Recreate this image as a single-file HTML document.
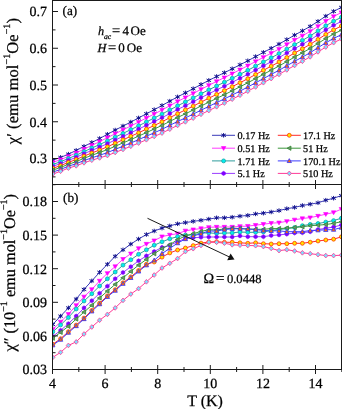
<!DOCTYPE html>
<html><head><meta charset="utf-8"><style>
html,body{margin:0;padding:0;background:#fff;}
body{width:342px;height:409px;overflow:hidden;}
svg{display:block;will-change:transform;}
text{stroke:#000;stroke-width:0.25px;text-rendering:geometricPrecision;}
</style></head><body>
<svg width="342" height="409" viewBox="0 0 342 409">
<defs>
<clipPath id="ct"><rect x="52.5" y="0.5" width="289.0" height="184.0"/></clipPath>
<clipPath id="cb"><rect x="52.5" y="184.5" width="289.0" height="185.0"/></clipPath>
</defs>
<rect width="342" height="409" fill="#fff"/>
<g clip-path="url(#ct)">
<polyline points="52.8,160.2 60.6,157.4 68.4,154.2 76.2,150.4 84.0,146.4 91.8,142.5 99.6,138.5 107.4,134.3 115.2,130.1 123.0,126.0 130.8,122.1 138.6,117.9 146.4,113.8 154.2,109.7 162.0,105.5 169.8,101.1 177.6,96.9 185.4,92.8 193.2,88.7 201.0,84.5 208.8,80.4 216.6,76.5 224.4,72.7 232.2,68.8 240.0,64.8 247.8,60.8 255.6,56.6 263.4,52.4 271.2,48.3 279.0,44.1 286.8,39.6 294.6,35.1 302.4,30.8 310.2,26.4 318.0,21.4 325.8,16.1 333.6,11.4 341.4,7.4" fill="none" stroke="#3a3ab8" stroke-width="1"/>
<polyline points="52.8,162.4 60.6,159.6 68.4,156.4 76.2,152.9 84.0,149.1 91.8,145.4 99.6,141.6 107.4,137.7 115.2,133.7 123.0,129.8 130.8,126.0 138.6,122.0 146.4,118.0 154.2,114.0 162.0,110.0 169.8,105.7 177.6,101.5 185.4,97.5 193.2,93.5 201.0,89.3 208.8,85.3 216.6,81.4 224.4,77.6 232.2,73.7 240.0,69.7 247.8,65.7 255.6,61.5 263.4,57.3 271.2,53.2 279.0,49.0 286.8,44.5 294.6,40.0 302.4,35.8 310.2,31.3 318.0,26.3 325.8,21.2 333.6,16.5 341.4,12.5" fill="none" stroke="#ff3cff" stroke-width="1"/>
<polyline points="52.8,164.5 60.6,161.7 68.4,158.5 76.2,155.2 84.0,151.6 91.8,148.0 99.6,144.6 107.4,140.9 115.2,137.1 123.0,133.4 130.8,129.6 138.6,125.8 146.4,121.9 154.2,118.0 162.0,114.1 169.8,109.9 177.6,105.8 185.4,101.9 193.2,97.9 201.0,93.8 208.8,89.8 216.6,86.0 224.4,82.2 232.2,78.3 240.0,74.3 247.8,70.3 255.6,66.1 263.4,61.9 271.2,57.8 279.0,53.6 286.8,49.1 294.6,44.6 302.4,40.4 310.2,35.9 318.0,30.9 325.8,25.8 333.6,21.2 341.4,17.3" fill="none" stroke="#2f9c9c" stroke-width="1"/>
<polyline points="52.8,166.3 60.6,163.6 68.4,160.4 76.2,157.3 84.0,153.7 91.8,150.4 99.6,147.1 107.4,143.7 115.2,140.0 123.0,136.4 130.8,132.8 138.6,129.1 146.4,125.3 154.2,121.6 162.0,117.7 169.8,113.6 177.6,109.5 185.4,105.7 193.2,101.8 201.0,97.7 208.8,93.8 216.6,89.9 224.4,86.2 232.2,82.3 240.0,78.3 247.8,74.3 255.6,70.1 263.4,65.8 271.2,61.8 279.0,57.6 286.8,53.0 294.6,48.6 302.4,44.4 310.2,39.9 318.0,34.9 325.8,29.9 333.6,25.3 341.4,21.4" fill="none" stroke="#9a3cff" stroke-width="1"/>
<polyline points="52.8,168.3 60.6,165.6 68.4,162.4 76.2,159.5 84.0,156.1 91.8,153.0 99.6,150.0 107.4,146.8 115.2,143.3 123.0,139.8 130.8,136.3 138.6,132.8 146.4,129.1 154.2,125.5 162.0,121.8 169.8,117.7 177.6,113.7 185.4,109.9 193.2,106.1 201.0,102.1 208.8,98.2 216.6,94.4 224.4,90.6 232.2,86.7 240.0,82.7 247.8,78.7 255.6,74.5 263.4,70.3 271.2,66.2 279.0,62.0 286.8,57.5 294.6,53.0 302.4,48.8 310.2,44.3 318.0,39.4 325.8,34.4 333.6,29.9 341.4,26.0" fill="none" stroke="#ff2a2a" stroke-width="1"/>
<polyline points="52.8,170.2 60.6,167.4 68.4,164.3 76.2,161.6 84.0,158.3 91.8,155.3 99.6,152.5 107.4,149.6 115.2,146.3 123.0,142.9 130.8,139.6 138.6,136.1 146.4,132.6 154.2,129.0 162.0,125.4 169.8,121.4 177.6,117.5 185.4,113.8 193.2,110.0 201.0,106.0 208.8,102.2 216.6,98.4 224.4,94.7 232.2,90.8 240.0,86.8 247.8,82.8 255.6,78.6 263.4,74.3 271.2,70.2 279.0,66.0 286.8,61.5 294.6,57.1 302.4,52.8 310.2,48.4 318.0,43.4 325.8,38.5 333.6,34.0 341.4,30.2" fill="none" stroke="#3c963c" stroke-width="1"/>
<polyline points="52.8,172.1 60.6,169.4 68.4,166.2 76.2,163.7 84.0,160.6 91.8,157.8 99.6,155.3 107.4,152.6 115.2,149.4 123.0,146.2 130.8,143.0 138.6,139.6 146.4,136.2 154.2,132.8 162.0,129.3 169.8,125.3 177.6,121.5 185.4,117.9 193.2,114.1 201.0,110.2 208.8,106.4 216.6,102.6 224.4,98.9 232.2,95.0 240.0,91.1 247.8,87.0 255.6,82.8 263.4,78.6 271.2,74.4 279.0,70.3 286.8,65.8 294.6,61.3 302.4,57.1 310.2,52.7 318.0,47.7 325.8,42.8 333.6,38.4 341.4,34.7" fill="none" stroke="#3c3cff" stroke-width="1"/>
<polyline points="52.8,174.0 60.6,171.3 68.4,168.1 76.2,165.8 84.0,162.8 91.8,160.2 99.6,157.9 107.4,155.5 115.2,152.5 123.0,149.4 130.8,146.3 138.6,143.1 146.4,139.8 154.2,136.5 162.0,133.1 169.8,129.2 177.6,125.4 185.4,121.8 193.2,118.1 201.0,114.3 208.8,110.6 216.6,106.8 224.4,103.1 232.2,99.2 240.0,95.3 247.8,91.2 255.6,87.0 263.4,82.7 271.2,78.6 279.0,74.4 286.8,69.9 294.6,65.5 302.4,61.3 310.2,56.8 318.0,51.9 325.8,47.1 333.6,42.7 341.4,39.0" fill="none" stroke="#ff3a96" stroke-width="1"/>
<path d="M50.54,158.85L55.05,161.55M50.54,161.55L55.05,158.85M52.80,157.94L52.80,162.45" stroke="#10108c" stroke-width="1.0" fill="none"/>
<path d="M58.34,156.05L62.85,158.75M58.34,158.75L62.85,156.05M60.60,155.14L60.60,159.65" stroke="#10108c" stroke-width="1.0" fill="none"/>
<path d="M66.14,152.80L70.65,155.50M66.14,155.50L70.65,152.80M68.40,151.90L68.40,156.41" stroke="#10108c" stroke-width="1.0" fill="none"/>
<path d="M73.94,149.07L78.45,151.78M73.94,151.78L78.45,149.07M76.20,148.17L76.20,152.68" stroke="#10108c" stroke-width="1.0" fill="none"/>
<path d="M81.75,145.08L86.25,147.78M81.75,147.78L86.25,145.08M84.00,144.18L84.00,148.69" stroke="#10108c" stroke-width="1.0" fill="none"/>
<path d="M89.55,141.14L94.05,143.84M89.55,143.84L94.05,141.14M91.80,140.24L91.80,144.75" stroke="#10108c" stroke-width="1.0" fill="none"/>
<path d="M97.34,137.14L101.85,139.85M97.34,139.85L101.85,137.14M99.60,136.24L99.60,140.75" stroke="#10108c" stroke-width="1.0" fill="none"/>
<path d="M105.15,132.91L109.66,135.61M105.15,135.61L109.66,132.91M107.40,132.00L107.40,136.51" stroke="#10108c" stroke-width="1.0" fill="none"/>
<path d="M112.94,128.71L117.45,131.41M112.94,131.41L117.45,128.71M115.20,127.81L115.20,132.32" stroke="#10108c" stroke-width="1.0" fill="none"/>
<path d="M120.75,124.68L125.25,127.38M120.75,127.38L125.25,124.68M123.00,123.78L123.00,128.29" stroke="#10108c" stroke-width="1.0" fill="none"/>
<path d="M128.55,120.71L133.06,123.41M128.55,123.41L133.06,120.71M130.80,119.80L130.80,124.31" stroke="#10108c" stroke-width="1.0" fill="none"/>
<path d="M136.34,116.60L140.85,119.30M136.34,119.30L140.85,116.60M138.60,115.69L138.60,120.20" stroke="#10108c" stroke-width="1.0" fill="none"/>
<path d="M144.14,112.40L148.65,115.11M144.14,115.11L148.65,112.40M146.40,111.50L146.40,116.01" stroke="#10108c" stroke-width="1.0" fill="none"/>
<path d="M151.94,108.30L156.45,111.01M151.94,111.01L156.45,108.30M154.20,107.40L154.20,111.91" stroke="#10108c" stroke-width="1.0" fill="none"/>
<path d="M159.75,104.13L164.25,106.83M159.75,106.83L164.25,104.13M162.00,103.23L162.00,107.74" stroke="#10108c" stroke-width="1.0" fill="none"/>
<path d="M167.55,99.76L172.06,102.47M167.55,102.47L172.06,99.76M169.80,98.86L169.80,103.37" stroke="#10108c" stroke-width="1.0" fill="none"/>
<path d="M175.34,95.52L179.85,98.22M175.34,98.22L179.85,95.52M177.60,94.61L177.60,99.12" stroke="#10108c" stroke-width="1.0" fill="none"/>
<path d="M183.14,91.47L187.65,94.18M183.14,94.18L187.65,91.47M185.40,90.57L185.40,95.08" stroke="#10108c" stroke-width="1.0" fill="none"/>
<path d="M190.94,87.34L195.45,90.05M190.94,90.05L195.45,87.34M193.20,86.44L193.20,90.95" stroke="#10108c" stroke-width="1.0" fill="none"/>
<path d="M198.75,83.11L203.25,85.82M198.75,85.82L203.25,83.11M201.00,82.21L201.00,86.72" stroke="#10108c" stroke-width="1.0" fill="none"/>
<path d="M206.55,79.02L211.06,81.73M206.55,81.73L211.06,79.02M208.80,78.12L208.80,82.63" stroke="#10108c" stroke-width="1.0" fill="none"/>
<path d="M214.34,75.15L218.85,77.85M214.34,77.85L218.85,75.15M216.60,74.24L216.60,78.75" stroke="#10108c" stroke-width="1.0" fill="none"/>
<path d="M222.14,71.36L226.65,74.06M222.14,74.06L226.65,71.36M224.40,70.46L224.40,74.97" stroke="#10108c" stroke-width="1.0" fill="none"/>
<path d="M229.94,67.40L234.45,70.11M229.94,70.11L234.45,67.40M232.20,66.50L232.20,71.01" stroke="#10108c" stroke-width="1.0" fill="none"/>
<path d="M237.75,63.40L242.25,66.11M237.75,66.11L242.25,63.40M240.00,62.50L240.00,67.01" stroke="#10108c" stroke-width="1.0" fill="none"/>
<path d="M245.55,59.41L250.06,62.12M245.55,62.12L250.06,59.41M247.80,58.51L247.80,63.02" stroke="#10108c" stroke-width="1.0" fill="none"/>
<path d="M253.34,55.23L257.85,57.93M253.34,57.93L257.85,55.23M255.60,54.33L255.60,58.84" stroke="#10108c" stroke-width="1.0" fill="none"/>
<path d="M261.14,51.01L265.65,53.72M261.14,53.72L265.65,51.01M263.40,50.11L263.40,54.62" stroke="#10108c" stroke-width="1.0" fill="none"/>
<path d="M268.94,46.94L273.45,49.65M268.94,49.65L273.45,46.94M271.20,46.04L271.20,50.55" stroke="#10108c" stroke-width="1.0" fill="none"/>
<path d="M276.75,42.75L281.25,45.45M276.75,45.45L281.25,42.75M279.00,41.85L279.00,46.36" stroke="#10108c" stroke-width="1.0" fill="none"/>
<path d="M284.55,38.21L289.06,40.92M284.55,40.92L289.06,38.21M286.80,37.31L286.80,41.82" stroke="#10108c" stroke-width="1.0" fill="none"/>
<path d="M292.34,33.73L296.85,36.43M292.34,36.43L296.85,33.73M294.60,32.83L294.60,37.34" stroke="#10108c" stroke-width="1.0" fill="none"/>
<path d="M300.14,29.49L304.65,32.20M300.14,32.20L304.65,29.49M302.40,28.59L302.40,33.10" stroke="#10108c" stroke-width="1.0" fill="none"/>
<path d="M307.94,25.01L312.45,27.72M307.94,27.72L312.45,25.01M310.20,24.11L310.20,28.62" stroke="#10108c" stroke-width="1.0" fill="none"/>
<path d="M315.75,20.02L320.25,22.72M315.75,22.72L320.25,20.02M318.00,19.11L318.00,23.62" stroke="#10108c" stroke-width="1.0" fill="none"/>
<path d="M323.55,14.79L328.06,17.50M323.55,17.50L328.06,14.79M325.80,13.89L325.80,18.40" stroke="#10108c" stroke-width="1.0" fill="none"/>
<path d="M331.35,10.03L335.86,12.74M331.35,12.74L335.86,10.03M333.60,9.13L333.60,13.64" stroke="#10108c" stroke-width="1.0" fill="none"/>
<path d="M339.14,6.05L343.65,8.75M339.14,8.75L343.65,6.05M341.40,5.15L341.40,9.66" stroke="#10108c" stroke-width="1.0" fill="none"/>
<polygon points="50.54,160.80 55.05,160.80 52.80,164.69" fill="#ff00ff" stroke="#ff00ff" stroke-width="0.6"/>
<polygon points="58.34,158.00 62.85,158.00 60.60,161.90" fill="#ff00ff" stroke="#ff00ff" stroke-width="0.6"/>
<polygon points="66.14,154.77 70.65,154.77 68.40,158.67" fill="#ff00ff" stroke="#ff00ff" stroke-width="0.6"/>
<polygon points="73.94,151.28 78.45,151.28 76.20,155.18" fill="#ff00ff" stroke="#ff00ff" stroke-width="0.6"/>
<polygon points="81.75,147.45 86.25,147.45 84.00,151.34" fill="#ff00ff" stroke="#ff00ff" stroke-width="0.6"/>
<polygon points="89.55,143.72 94.05,143.72 91.80,147.62" fill="#ff00ff" stroke="#ff00ff" stroke-width="0.6"/>
<polygon points="97.34,140.00 101.85,140.00 99.60,143.89" fill="#ff00ff" stroke="#ff00ff" stroke-width="0.6"/>
<polygon points="105.15,136.06 109.66,136.06 107.40,139.96" fill="#ff00ff" stroke="#ff00ff" stroke-width="0.6"/>
<polygon points="112.94,132.05 117.45,132.05 115.20,135.95" fill="#ff00ff" stroke="#ff00ff" stroke-width="0.6"/>
<polygon points="120.75,128.18 125.25,128.18 123.00,132.08" fill="#ff00ff" stroke="#ff00ff" stroke-width="0.6"/>
<polygon points="128.55,124.34 133.06,124.34 130.80,128.24" fill="#ff00ff" stroke="#ff00ff" stroke-width="0.6"/>
<polygon points="136.34,120.38 140.85,120.38 138.60,124.27" fill="#ff00ff" stroke="#ff00ff" stroke-width="0.6"/>
<polygon points="144.14,116.33 148.65,116.33 146.40,120.22" fill="#ff00ff" stroke="#ff00ff" stroke-width="0.6"/>
<polygon points="151.94,112.36 156.45,112.36 154.20,116.25" fill="#ff00ff" stroke="#ff00ff" stroke-width="0.6"/>
<polygon points="159.75,108.31 164.25,108.31 162.00,112.21" fill="#ff00ff" stroke="#ff00ff" stroke-width="0.6"/>
<polygon points="167.55,104.03 172.06,104.03 169.80,107.92" fill="#ff00ff" stroke="#ff00ff" stroke-width="0.6"/>
<polygon points="175.34,99.85 179.85,99.85 177.60,103.75" fill="#ff00ff" stroke="#ff00ff" stroke-width="0.6"/>
<polygon points="183.14,95.89 187.65,95.89 185.40,99.78" fill="#ff00ff" stroke="#ff00ff" stroke-width="0.6"/>
<polygon points="190.94,91.82 195.45,91.82 193.20,95.72" fill="#ff00ff" stroke="#ff00ff" stroke-width="0.6"/>
<polygon points="198.75,87.66 203.25,87.66 201.00,91.55" fill="#ff00ff" stroke="#ff00ff" stroke-width="0.6"/>
<polygon points="206.55,83.63 211.06,83.63 208.80,87.52" fill="#ff00ff" stroke="#ff00ff" stroke-width="0.6"/>
<polygon points="214.34,79.76 218.85,79.76 216.60,83.66" fill="#ff00ff" stroke="#ff00ff" stroke-width="0.6"/>
<polygon points="222.14,75.99 226.65,75.99 224.40,79.88" fill="#ff00ff" stroke="#ff00ff" stroke-width="0.6"/>
<polygon points="229.94,72.04 234.45,72.04 232.20,75.94" fill="#ff00ff" stroke="#ff00ff" stroke-width="0.6"/>
<polygon points="237.75,68.06 242.25,68.06 240.00,71.95" fill="#ff00ff" stroke="#ff00ff" stroke-width="0.6"/>
<polygon points="245.55,64.06 250.06,64.06 247.80,67.95" fill="#ff00ff" stroke="#ff00ff" stroke-width="0.6"/>
<polygon points="253.34,59.87 257.85,59.87 255.60,63.76" fill="#ff00ff" stroke="#ff00ff" stroke-width="0.6"/>
<polygon points="261.14,55.64 265.65,55.64 263.40,59.54" fill="#ff00ff" stroke="#ff00ff" stroke-width="0.6"/>
<polygon points="268.94,51.57 273.45,51.57 271.20,55.46" fill="#ff00ff" stroke="#ff00ff" stroke-width="0.6"/>
<polygon points="276.75,47.38 281.25,47.38 279.00,51.27" fill="#ff00ff" stroke="#ff00ff" stroke-width="0.6"/>
<polygon points="284.55,42.84 289.06,42.84 286.80,46.74" fill="#ff00ff" stroke="#ff00ff" stroke-width="0.6"/>
<polygon points="292.34,38.37 296.85,38.37 294.60,42.26" fill="#ff00ff" stroke="#ff00ff" stroke-width="0.6"/>
<polygon points="300.14,34.13 304.65,34.13 302.40,38.03" fill="#ff00ff" stroke="#ff00ff" stroke-width="0.6"/>
<polygon points="307.94,29.66 312.45,29.66 310.20,33.56" fill="#ff00ff" stroke="#ff00ff" stroke-width="0.6"/>
<polygon points="315.75,24.67 320.25,24.67 318.00,28.56" fill="#ff00ff" stroke="#ff00ff" stroke-width="0.6"/>
<polygon points="323.55,19.51 328.06,19.51 325.80,23.41" fill="#ff00ff" stroke="#ff00ff" stroke-width="0.6"/>
<polygon points="331.35,14.82 335.86,14.82 333.60,18.71" fill="#ff00ff" stroke="#ff00ff" stroke-width="0.6"/>
<polygon points="339.14,10.88 343.65,10.88 341.40,14.77" fill="#ff00ff" stroke="#ff00ff" stroke-width="0.6"/>
<circle cx="52.8" cy="164.5" r="1.95" fill="#00f0f0" stroke="#1aa6a6" stroke-width="0.8"/>
<circle cx="60.6" cy="161.7" r="1.95" fill="#00f0f0" stroke="#1aa6a6" stroke-width="0.8"/>
<circle cx="68.4" cy="158.5" r="1.95" fill="#00f0f0" stroke="#1aa6a6" stroke-width="0.8"/>
<circle cx="76.2" cy="155.2" r="1.95" fill="#00f0f0" stroke="#1aa6a6" stroke-width="0.8"/>
<circle cx="84.0" cy="151.6" r="1.95" fill="#00f0f0" stroke="#1aa6a6" stroke-width="0.8"/>
<circle cx="91.8" cy="148.0" r="1.95" fill="#00f0f0" stroke="#1aa6a6" stroke-width="0.8"/>
<circle cx="99.6" cy="144.6" r="1.95" fill="#00f0f0" stroke="#1aa6a6" stroke-width="0.8"/>
<circle cx="107.4" cy="140.9" r="1.95" fill="#00f0f0" stroke="#1aa6a6" stroke-width="0.8"/>
<circle cx="115.2" cy="137.1" r="1.95" fill="#00f0f0" stroke="#1aa6a6" stroke-width="0.8"/>
<circle cx="123.0" cy="133.4" r="1.95" fill="#00f0f0" stroke="#1aa6a6" stroke-width="0.8"/>
<circle cx="130.8" cy="129.6" r="1.95" fill="#00f0f0" stroke="#1aa6a6" stroke-width="0.8"/>
<circle cx="138.6" cy="125.8" r="1.95" fill="#00f0f0" stroke="#1aa6a6" stroke-width="0.8"/>
<circle cx="146.4" cy="121.9" r="1.95" fill="#00f0f0" stroke="#1aa6a6" stroke-width="0.8"/>
<circle cx="154.2" cy="118.0" r="1.95" fill="#00f0f0" stroke="#1aa6a6" stroke-width="0.8"/>
<circle cx="162.0" cy="114.1" r="1.95" fill="#00f0f0" stroke="#1aa6a6" stroke-width="0.8"/>
<circle cx="169.8" cy="109.9" r="1.95" fill="#00f0f0" stroke="#1aa6a6" stroke-width="0.8"/>
<circle cx="177.6" cy="105.8" r="1.95" fill="#00f0f0" stroke="#1aa6a6" stroke-width="0.8"/>
<circle cx="185.4" cy="101.9" r="1.95" fill="#00f0f0" stroke="#1aa6a6" stroke-width="0.8"/>
<circle cx="193.2" cy="97.9" r="1.95" fill="#00f0f0" stroke="#1aa6a6" stroke-width="0.8"/>
<circle cx="201.0" cy="93.8" r="1.95" fill="#00f0f0" stroke="#1aa6a6" stroke-width="0.8"/>
<circle cx="208.8" cy="89.8" r="1.95" fill="#00f0f0" stroke="#1aa6a6" stroke-width="0.8"/>
<circle cx="216.6" cy="86.0" r="1.95" fill="#00f0f0" stroke="#1aa6a6" stroke-width="0.8"/>
<circle cx="224.4" cy="82.2" r="1.95" fill="#00f0f0" stroke="#1aa6a6" stroke-width="0.8"/>
<circle cx="232.2" cy="78.3" r="1.95" fill="#00f0f0" stroke="#1aa6a6" stroke-width="0.8"/>
<circle cx="240.0" cy="74.3" r="1.95" fill="#00f0f0" stroke="#1aa6a6" stroke-width="0.8"/>
<circle cx="247.8" cy="70.3" r="1.95" fill="#00f0f0" stroke="#1aa6a6" stroke-width="0.8"/>
<circle cx="255.6" cy="66.1" r="1.95" fill="#00f0f0" stroke="#1aa6a6" stroke-width="0.8"/>
<circle cx="263.4" cy="61.9" r="1.95" fill="#00f0f0" stroke="#1aa6a6" stroke-width="0.8"/>
<circle cx="271.2" cy="57.8" r="1.95" fill="#00f0f0" stroke="#1aa6a6" stroke-width="0.8"/>
<circle cx="279.0" cy="53.6" r="1.95" fill="#00f0f0" stroke="#1aa6a6" stroke-width="0.8"/>
<circle cx="286.8" cy="49.1" r="1.95" fill="#00f0f0" stroke="#1aa6a6" stroke-width="0.8"/>
<circle cx="294.6" cy="44.6" r="1.95" fill="#00f0f0" stroke="#1aa6a6" stroke-width="0.8"/>
<circle cx="302.4" cy="40.4" r="1.95" fill="#00f0f0" stroke="#1aa6a6" stroke-width="0.8"/>
<circle cx="310.2" cy="35.9" r="1.95" fill="#00f0f0" stroke="#1aa6a6" stroke-width="0.8"/>
<circle cx="318.0" cy="30.9" r="1.95" fill="#00f0f0" stroke="#1aa6a6" stroke-width="0.8"/>
<circle cx="325.8" cy="25.8" r="1.95" fill="#00f0f0" stroke="#1aa6a6" stroke-width="0.8"/>
<circle cx="333.6" cy="21.2" r="1.95" fill="#00f0f0" stroke="#1aa6a6" stroke-width="0.8"/>
<circle cx="341.4" cy="17.3" r="1.95" fill="#00f0f0" stroke="#1aa6a6" stroke-width="0.8"/>
<polygon points="54.58,167.35 52.80,168.38 51.02,167.35 51.02,165.30 52.80,164.28 54.58,165.30" fill="#8000ff" stroke="#8000ff" stroke-width="0.6"/>
<polygon points="62.38,164.58 60.60,165.60 58.82,164.58 58.82,162.53 60.60,161.50 62.38,162.53" fill="#8000ff" stroke="#8000ff" stroke-width="0.6"/>
<polygon points="70.18,161.38 68.40,162.41 66.62,161.38 66.62,159.33 68.40,158.31 70.18,159.33" fill="#8000ff" stroke="#8000ff" stroke-width="0.6"/>
<polygon points="77.98,158.29 76.20,159.31 74.42,158.29 74.42,156.24 76.20,155.21 77.98,156.24" fill="#8000ff" stroke="#8000ff" stroke-width="0.6"/>
<polygon points="85.78,154.74 84.00,155.76 82.22,154.74 82.22,152.69 84.00,151.66 85.78,152.69" fill="#8000ff" stroke="#8000ff" stroke-width="0.6"/>
<polygon points="93.58,151.39 91.80,152.41 90.02,151.39 90.02,149.34 91.80,148.31 93.58,149.34" fill="#8000ff" stroke="#8000ff" stroke-width="0.6"/>
<polygon points="101.38,148.14 99.60,149.16 97.82,148.14 97.82,146.09 99.60,145.06 101.38,146.09" fill="#8000ff" stroke="#8000ff" stroke-width="0.6"/>
<polygon points="109.18,144.72 107.40,145.75 105.62,144.72 105.62,142.67 107.40,141.65 109.18,142.67" fill="#8000ff" stroke="#8000ff" stroke-width="0.6"/>
<polygon points="116.98,141.04 115.20,142.07 113.42,141.04 113.42,138.99 115.20,137.97 116.98,138.99" fill="#8000ff" stroke="#8000ff" stroke-width="0.6"/>
<polygon points="124.78,137.45 123.00,138.47 121.22,137.45 121.22,135.40 123.00,134.37 124.78,135.40" fill="#8000ff" stroke="#8000ff" stroke-width="0.6"/>
<polygon points="132.58,133.83 130.80,134.86 129.02,133.83 129.02,131.78 130.80,130.76 132.58,131.78" fill="#8000ff" stroke="#8000ff" stroke-width="0.6"/>
<polygon points="140.38,130.12 138.60,131.15 136.82,130.12 136.82,128.07 138.60,127.05 140.38,128.07" fill="#8000ff" stroke="#8000ff" stroke-width="0.6"/>
<polygon points="148.18,126.33 146.40,127.35 144.62,126.33 144.62,124.28 146.40,123.25 148.18,124.28" fill="#8000ff" stroke="#8000ff" stroke-width="0.6"/>
<polygon points="155.98,122.58 154.20,123.61 152.42,122.58 152.42,120.53 154.20,119.51 155.98,120.53" fill="#8000ff" stroke="#8000ff" stroke-width="0.6"/>
<polygon points="163.78,118.76 162.00,119.78 160.22,118.76 160.22,116.71 162.00,115.68 163.78,116.71" fill="#8000ff" stroke="#8000ff" stroke-width="0.6"/>
<polygon points="171.58,114.61 169.80,115.63 168.02,114.61 168.02,112.56 169.80,111.53 171.58,112.56" fill="#8000ff" stroke="#8000ff" stroke-width="0.6"/>
<polygon points="179.38,110.57 177.60,111.59 175.82,110.57 175.82,108.52 177.60,107.49 179.38,108.52" fill="#8000ff" stroke="#8000ff" stroke-width="0.6"/>
<polygon points="187.18,106.74 185.40,107.76 183.62,106.74 183.62,104.69 185.40,103.66 187.18,104.69" fill="#8000ff" stroke="#8000ff" stroke-width="0.6"/>
<polygon points="194.98,102.79 193.20,103.81 191.42,102.79 191.42,100.74 193.20,99.71 194.98,100.74" fill="#8000ff" stroke="#8000ff" stroke-width="0.6"/>
<polygon points="202.78,98.74 201.00,99.76 199.22,98.74 199.22,96.69 201.00,95.66 202.78,96.69" fill="#8000ff" stroke="#8000ff" stroke-width="0.6"/>
<polygon points="210.58,94.81 208.80,95.84 207.02,94.81 207.02,92.76 208.80,91.74 210.58,92.76" fill="#8000ff" stroke="#8000ff" stroke-width="0.6"/>
<polygon points="218.38,90.97 216.60,91.99 214.82,90.97 214.82,88.92 216.60,87.89 218.38,88.92" fill="#8000ff" stroke="#8000ff" stroke-width="0.6"/>
<polygon points="226.18,87.21 224.40,88.24 222.62,87.21 222.62,85.16 224.40,84.14 226.18,85.16" fill="#8000ff" stroke="#8000ff" stroke-width="0.6"/>
<polygon points="233.98,83.29 232.20,84.31 230.42,83.29 230.42,81.24 232.20,80.21 233.98,81.24" fill="#8000ff" stroke="#8000ff" stroke-width="0.6"/>
<polygon points="241.78,79.32 240.00,80.35 238.22,79.32 238.22,77.27 240.00,76.25 241.78,77.27" fill="#8000ff" stroke="#8000ff" stroke-width="0.6"/>
<polygon points="249.58,75.31 247.80,76.33 246.02,75.31 246.02,73.26 247.80,72.23 249.58,73.26" fill="#8000ff" stroke="#8000ff" stroke-width="0.6"/>
<polygon points="257.38,71.10 255.60,72.13 253.82,71.10 253.82,69.05 255.60,68.03 257.38,69.05" fill="#8000ff" stroke="#8000ff" stroke-width="0.6"/>
<polygon points="265.18,66.87 263.40,67.89 261.62,66.87 261.62,64.82 263.40,63.79 265.18,64.82" fill="#8000ff" stroke="#8000ff" stroke-width="0.6"/>
<polygon points="272.98,62.78 271.20,63.80 269.42,62.78 269.42,60.73 271.20,59.70 272.98,60.73" fill="#8000ff" stroke="#8000ff" stroke-width="0.6"/>
<polygon points="280.78,58.59 279.00,59.62 277.22,58.59 277.22,56.54 279.00,55.52 280.78,56.54" fill="#8000ff" stroke="#8000ff" stroke-width="0.6"/>
<polygon points="288.58,54.07 286.80,55.10 285.02,54.07 285.02,52.02 286.80,51.00 288.58,52.02" fill="#8000ff" stroke="#8000ff" stroke-width="0.6"/>
<polygon points="296.38,49.60 294.60,50.63 292.82,49.60 292.82,47.55 294.60,46.53 296.38,47.55" fill="#8000ff" stroke="#8000ff" stroke-width="0.6"/>
<polygon points="304.18,45.38 302.40,46.41 300.62,45.38 300.62,43.33 302.40,42.31 304.18,43.33" fill="#8000ff" stroke="#8000ff" stroke-width="0.6"/>
<polygon points="311.98,40.92 310.20,41.94 308.42,40.92 308.42,38.87 310.20,37.84 311.98,38.87" fill="#8000ff" stroke="#8000ff" stroke-width="0.6"/>
<polygon points="319.78,35.94 318.00,36.96 316.22,35.94 316.22,33.89 318.00,32.86 319.78,33.89" fill="#8000ff" stroke="#8000ff" stroke-width="0.6"/>
<polygon points="327.58,30.90 325.80,31.92 324.02,30.90 324.02,28.85 325.80,27.82 327.58,28.85" fill="#8000ff" stroke="#8000ff" stroke-width="0.6"/>
<polygon points="335.38,26.32 333.60,27.34 331.82,26.32 331.82,24.27 333.60,23.24 335.38,24.27" fill="#8000ff" stroke="#8000ff" stroke-width="0.6"/>
<polygon points="343.18,22.45 341.40,23.47 339.62,22.45 339.62,20.40 341.40,19.37 343.18,20.40" fill="#8000ff" stroke="#8000ff" stroke-width="0.6"/>
<circle cx="52.8" cy="168.3" r="1.95" fill="#ffe400" stroke="#ff3a00" stroke-width="0.8"/>
<circle cx="60.6" cy="165.6" r="1.95" fill="#ffe400" stroke="#ff3a00" stroke-width="0.8"/>
<circle cx="68.4" cy="162.4" r="1.95" fill="#ffe400" stroke="#ff3a00" stroke-width="0.8"/>
<circle cx="76.2" cy="159.5" r="1.95" fill="#ffe400" stroke="#ff3a00" stroke-width="0.8"/>
<circle cx="84.0" cy="156.1" r="1.95" fill="#ffe400" stroke="#ff3a00" stroke-width="0.8"/>
<circle cx="91.8" cy="153.0" r="1.95" fill="#ffe400" stroke="#ff3a00" stroke-width="0.8"/>
<circle cx="99.6" cy="150.0" r="1.95" fill="#ffe400" stroke="#ff3a00" stroke-width="0.8"/>
<circle cx="107.4" cy="146.8" r="1.95" fill="#ffe400" stroke="#ff3a00" stroke-width="0.8"/>
<circle cx="115.2" cy="143.3" r="1.95" fill="#ffe400" stroke="#ff3a00" stroke-width="0.8"/>
<circle cx="123.0" cy="139.8" r="1.95" fill="#ffe400" stroke="#ff3a00" stroke-width="0.8"/>
<circle cx="130.8" cy="136.3" r="1.95" fill="#ffe400" stroke="#ff3a00" stroke-width="0.8"/>
<circle cx="138.6" cy="132.8" r="1.95" fill="#ffe400" stroke="#ff3a00" stroke-width="0.8"/>
<circle cx="146.4" cy="129.1" r="1.95" fill="#ffe400" stroke="#ff3a00" stroke-width="0.8"/>
<circle cx="154.2" cy="125.5" r="1.95" fill="#ffe400" stroke="#ff3a00" stroke-width="0.8"/>
<circle cx="162.0" cy="121.8" r="1.95" fill="#ffe400" stroke="#ff3a00" stroke-width="0.8"/>
<circle cx="169.8" cy="117.7" r="1.95" fill="#ffe400" stroke="#ff3a00" stroke-width="0.8"/>
<circle cx="177.6" cy="113.7" r="1.95" fill="#ffe400" stroke="#ff3a00" stroke-width="0.8"/>
<circle cx="185.4" cy="109.9" r="1.95" fill="#ffe400" stroke="#ff3a00" stroke-width="0.8"/>
<circle cx="193.2" cy="106.1" r="1.95" fill="#ffe400" stroke="#ff3a00" stroke-width="0.8"/>
<circle cx="201.0" cy="102.1" r="1.95" fill="#ffe400" stroke="#ff3a00" stroke-width="0.8"/>
<circle cx="208.8" cy="98.2" r="1.95" fill="#ffe400" stroke="#ff3a00" stroke-width="0.8"/>
<circle cx="216.6" cy="94.4" r="1.95" fill="#ffe400" stroke="#ff3a00" stroke-width="0.8"/>
<circle cx="224.4" cy="90.6" r="1.95" fill="#ffe400" stroke="#ff3a00" stroke-width="0.8"/>
<circle cx="232.2" cy="86.7" r="1.95" fill="#ffe400" stroke="#ff3a00" stroke-width="0.8"/>
<circle cx="240.0" cy="82.7" r="1.95" fill="#ffe400" stroke="#ff3a00" stroke-width="0.8"/>
<circle cx="247.8" cy="78.7" r="1.95" fill="#ffe400" stroke="#ff3a00" stroke-width="0.8"/>
<circle cx="255.6" cy="74.5" r="1.95" fill="#ffe400" stroke="#ff3a00" stroke-width="0.8"/>
<circle cx="263.4" cy="70.3" r="1.95" fill="#ffe400" stroke="#ff3a00" stroke-width="0.8"/>
<circle cx="271.2" cy="66.2" r="1.95" fill="#ffe400" stroke="#ff3a00" stroke-width="0.8"/>
<circle cx="279.0" cy="62.0" r="1.95" fill="#ffe400" stroke="#ff3a00" stroke-width="0.8"/>
<circle cx="286.8" cy="57.5" r="1.95" fill="#ffe400" stroke="#ff3a00" stroke-width="0.8"/>
<circle cx="294.6" cy="53.0" r="1.95" fill="#ffe400" stroke="#ff3a00" stroke-width="0.8"/>
<circle cx="302.4" cy="48.8" r="1.95" fill="#ffe400" stroke="#ff3a00" stroke-width="0.8"/>
<circle cx="310.2" cy="44.3" r="1.95" fill="#ffe400" stroke="#ff3a00" stroke-width="0.8"/>
<circle cx="318.0" cy="39.4" r="1.95" fill="#ffe400" stroke="#ff3a00" stroke-width="0.8"/>
<circle cx="325.8" cy="34.4" r="1.95" fill="#ffe400" stroke="#ff3a00" stroke-width="0.8"/>
<circle cx="333.6" cy="29.9" r="1.95" fill="#ffe400" stroke="#ff3a00" stroke-width="0.8"/>
<circle cx="341.4" cy="26.0" r="1.95" fill="#ffe400" stroke="#ff3a00" stroke-width="0.8"/>
<polygon points="54.44,168.03 54.44,172.33 50.54,170.18" fill="#6f8f6f" stroke="#2f8a2f" stroke-width="0.8"/>
<polygon points="62.24,165.26 62.24,169.57 58.34,167.41" fill="#6f8f6f" stroke="#2f8a2f" stroke-width="0.8"/>
<polygon points="70.04,162.10 70.04,166.41 66.14,164.25" fill="#6f8f6f" stroke="#2f8a2f" stroke-width="0.8"/>
<polygon points="77.84,159.41 77.84,163.71 73.94,161.56" fill="#6f8f6f" stroke="#2f8a2f" stroke-width="0.8"/>
<polygon points="85.64,156.14 85.64,160.44 81.75,158.29" fill="#6f8f6f" stroke="#2f8a2f" stroke-width="0.8"/>
<polygon points="93.44,153.16 93.44,157.46 89.55,155.31" fill="#6f8f6f" stroke="#2f8a2f" stroke-width="0.8"/>
<polygon points="101.24,150.38 101.24,154.69 97.34,152.53" fill="#6f8f6f" stroke="#2f8a2f" stroke-width="0.8"/>
<polygon points="109.04,147.48 109.04,151.78 105.15,149.63" fill="#6f8f6f" stroke="#2f8a2f" stroke-width="0.8"/>
<polygon points="116.84,144.12 116.84,148.43 112.94,146.27" fill="#6f8f6f" stroke="#2f8a2f" stroke-width="0.8"/>
<polygon points="124.64,140.80 124.64,145.10 120.75,142.95" fill="#6f8f6f" stroke="#2f8a2f" stroke-width="0.8"/>
<polygon points="132.44,137.41 132.44,141.72 128.55,139.56" fill="#6f8f6f" stroke="#2f8a2f" stroke-width="0.8"/>
<polygon points="140.24,133.95 140.24,138.26 136.34,136.11" fill="#6f8f6f" stroke="#2f8a2f" stroke-width="0.8"/>
<polygon points="148.04,130.40 148.04,134.71 144.14,132.56" fill="#6f8f6f" stroke="#2f8a2f" stroke-width="0.8"/>
<polygon points="155.84,126.88 155.84,131.19 151.94,129.04" fill="#6f8f6f" stroke="#2f8a2f" stroke-width="0.8"/>
<polygon points="163.64,123.28 163.64,127.59 159.75,125.44" fill="#6f8f6f" stroke="#2f8a2f" stroke-width="0.8"/>
<polygon points="171.44,119.26 171.44,123.57 167.55,121.42" fill="#6f8f6f" stroke="#2f8a2f" stroke-width="0.8"/>
<polygon points="179.24,115.36 179.24,119.66 175.34,117.51" fill="#6f8f6f" stroke="#2f8a2f" stroke-width="0.8"/>
<polygon points="187.04,111.66 187.04,115.96 183.14,113.81" fill="#6f8f6f" stroke="#2f8a2f" stroke-width="0.8"/>
<polygon points="194.84,107.82 194.84,112.12 190.94,109.97" fill="#6f8f6f" stroke="#2f8a2f" stroke-width="0.8"/>
<polygon points="202.64,103.88 202.64,108.19 198.75,106.04" fill="#6f8f6f" stroke="#2f8a2f" stroke-width="0.8"/>
<polygon points="210.44,100.06 210.44,104.37 206.55,102.21" fill="#6f8f6f" stroke="#2f8a2f" stroke-width="0.8"/>
<polygon points="218.24,96.24 218.24,100.54 214.34,98.39" fill="#6f8f6f" stroke="#2f8a2f" stroke-width="0.8"/>
<polygon points="226.04,92.50 226.04,96.81 222.14,94.66" fill="#6f8f6f" stroke="#2f8a2f" stroke-width="0.8"/>
<polygon points="233.84,88.60 233.84,92.90 229.94,90.75" fill="#6f8f6f" stroke="#2f8a2f" stroke-width="0.8"/>
<polygon points="241.64,84.65 241.64,88.96 237.75,86.81" fill="#6f8f6f" stroke="#2f8a2f" stroke-width="0.8"/>
<polygon points="249.44,80.63 249.44,84.93 245.55,82.78" fill="#6f8f6f" stroke="#2f8a2f" stroke-width="0.8"/>
<polygon points="257.24,76.41 257.24,80.71 253.34,78.56" fill="#6f8f6f" stroke="#2f8a2f" stroke-width="0.8"/>
<polygon points="265.04,72.16 265.04,76.46 261.14,74.31" fill="#6f8f6f" stroke="#2f8a2f" stroke-width="0.8"/>
<polygon points="272.84,68.05 272.84,72.36 268.94,70.21" fill="#6f8f6f" stroke="#2f8a2f" stroke-width="0.8"/>
<polygon points="280.64,63.88 280.64,68.19 276.75,66.03" fill="#6f8f6f" stroke="#2f8a2f" stroke-width="0.8"/>
<polygon points="288.44,59.37 288.44,63.67 284.55,61.52" fill="#6f8f6f" stroke="#2f8a2f" stroke-width="0.8"/>
<polygon points="296.24,54.91 296.24,59.21 292.34,57.06" fill="#6f8f6f" stroke="#2f8a2f" stroke-width="0.8"/>
<polygon points="304.04,50.69 304.04,55.00 300.14,52.85" fill="#6f8f6f" stroke="#2f8a2f" stroke-width="0.8"/>
<polygon points="311.84,46.24 311.84,50.55 307.94,48.39" fill="#6f8f6f" stroke="#2f8a2f" stroke-width="0.8"/>
<polygon points="319.64,41.27 319.64,45.57 315.75,43.42" fill="#6f8f6f" stroke="#2f8a2f" stroke-width="0.8"/>
<polygon points="327.44,36.34 327.44,40.65 323.55,38.50" fill="#6f8f6f" stroke="#2f8a2f" stroke-width="0.8"/>
<polygon points="335.24,31.88 335.24,36.18 331.35,34.03" fill="#6f8f6f" stroke="#2f8a2f" stroke-width="0.8"/>
<polygon points="343.04,28.08 343.04,32.38 339.14,30.23" fill="#6f8f6f" stroke="#2f8a2f" stroke-width="0.8"/>
<polygon points="50.65,173.75 54.95,173.75 52.80,169.85" fill="#ff6a00" stroke="#3030ff" stroke-width="0.8"/>
<polygon points="58.45,170.99 62.75,170.99 60.60,167.10" fill="#ff6a00" stroke="#3030ff" stroke-width="0.8"/>
<polygon points="66.25,167.85 70.55,167.85 68.40,163.96" fill="#ff6a00" stroke="#3030ff" stroke-width="0.8"/>
<polygon points="74.05,165.36 78.35,165.36 76.20,161.46" fill="#ff6a00" stroke="#3030ff" stroke-width="0.8"/>
<polygon points="81.85,162.22 86.15,162.22 84.00,158.33" fill="#ff6a00" stroke="#3030ff" stroke-width="0.8"/>
<polygon points="89.65,159.43 93.95,159.43 91.80,155.54" fill="#ff6a00" stroke="#3030ff" stroke-width="0.8"/>
<polygon points="97.45,156.89 101.75,156.89 99.60,153.00" fill="#ff6a00" stroke="#3030ff" stroke-width="0.8"/>
<polygon points="105.25,154.25 109.55,154.25 107.40,150.35" fill="#ff6a00" stroke="#3030ff" stroke-width="0.8"/>
<polygon points="113.05,151.05 117.35,151.05 115.20,147.16" fill="#ff6a00" stroke="#3030ff" stroke-width="0.8"/>
<polygon points="120.85,147.86 125.15,147.86 123.00,143.97" fill="#ff6a00" stroke="#3030ff" stroke-width="0.8"/>
<polygon points="128.65,144.59 132.95,144.59 130.80,140.70" fill="#ff6a00" stroke="#3030ff" stroke-width="0.8"/>
<polygon points="136.45,141.26 140.75,141.26 138.60,137.37" fill="#ff6a00" stroke="#3030ff" stroke-width="0.8"/>
<polygon points="144.25,137.84 148.55,137.84 146.40,133.94" fill="#ff6a00" stroke="#3030ff" stroke-width="0.8"/>
<polygon points="152.05,134.43 156.35,134.43 154.20,130.53" fill="#ff6a00" stroke="#3030ff" stroke-width="0.8"/>
<polygon points="159.85,130.94 164.15,130.94 162.00,127.04" fill="#ff6a00" stroke="#3030ff" stroke-width="0.8"/>
<polygon points="167.65,126.99 171.95,126.99 169.80,123.09" fill="#ff6a00" stroke="#3030ff" stroke-width="0.8"/>
<polygon points="175.45,123.15 179.75,123.15 177.60,119.25" fill="#ff6a00" stroke="#3030ff" stroke-width="0.8"/>
<polygon points="183.25,119.51 187.55,119.51 185.40,115.62" fill="#ff6a00" stroke="#3030ff" stroke-width="0.8"/>
<polygon points="191.05,115.73 195.35,115.73 193.20,111.84" fill="#ff6a00" stroke="#3030ff" stroke-width="0.8"/>
<polygon points="198.85,111.85 203.15,111.85 201.00,107.96" fill="#ff6a00" stroke="#3030ff" stroke-width="0.8"/>
<polygon points="206.65,108.08 210.95,108.08 208.80,104.19" fill="#ff6a00" stroke="#3030ff" stroke-width="0.8"/>
<polygon points="214.45,104.27 218.75,104.27 216.60,100.38" fill="#ff6a00" stroke="#3030ff" stroke-width="0.8"/>
<polygon points="222.25,100.55 226.55,100.55 224.40,96.65" fill="#ff6a00" stroke="#3030ff" stroke-width="0.8"/>
<polygon points="230.05,96.65 234.35,96.65 232.20,92.76" fill="#ff6a00" stroke="#3030ff" stroke-width="0.8"/>
<polygon points="237.85,92.72 242.15,92.72 240.00,88.82" fill="#ff6a00" stroke="#3030ff" stroke-width="0.8"/>
<polygon points="245.65,88.68 249.95,88.68 247.80,84.79" fill="#ff6a00" stroke="#3030ff" stroke-width="0.8"/>
<polygon points="253.45,84.46 257.75,84.46 255.60,80.56" fill="#ff6a00" stroke="#3030ff" stroke-width="0.8"/>
<polygon points="261.25,80.20 265.55,80.20 263.40,76.30" fill="#ff6a00" stroke="#3030ff" stroke-width="0.8"/>
<polygon points="269.05,76.09 273.35,76.09 271.20,72.19" fill="#ff6a00" stroke="#3030ff" stroke-width="0.8"/>
<polygon points="276.85,71.92 281.15,71.92 279.00,68.02" fill="#ff6a00" stroke="#3030ff" stroke-width="0.8"/>
<polygon points="284.65,67.41 288.95,67.41 286.80,63.51" fill="#ff6a00" stroke="#3030ff" stroke-width="0.8"/>
<polygon points="292.45,62.96 296.75,62.96 294.60,59.06" fill="#ff6a00" stroke="#3030ff" stroke-width="0.8"/>
<polygon points="300.25,58.75 304.55,58.75 302.40,54.85" fill="#ff6a00" stroke="#3030ff" stroke-width="0.8"/>
<polygon points="308.05,54.30 312.35,54.30 310.20,50.40" fill="#ff6a00" stroke="#3030ff" stroke-width="0.8"/>
<polygon points="315.85,49.33 320.15,49.33 318.00,45.44" fill="#ff6a00" stroke="#3030ff" stroke-width="0.8"/>
<polygon points="323.65,44.46 327.95,44.46 325.80,40.57" fill="#ff6a00" stroke="#3030ff" stroke-width="0.8"/>
<polygon points="331.45,40.05 335.75,40.05 333.60,36.16" fill="#ff6a00" stroke="#3030ff" stroke-width="0.8"/>
<polygon points="339.25,36.29 343.55,36.29 341.40,32.40" fill="#ff6a00" stroke="#3030ff" stroke-width="0.8"/>
<polygon points="52.80,171.64 54.95,174.00 52.80,176.36 50.65,174.00" fill="#7fe0ff" stroke="#ff3a96" stroke-width="0.8"/>
<polygon points="60.60,168.89 62.75,171.25 60.60,173.61 58.45,171.25" fill="#7fe0ff" stroke="#ff3a96" stroke-width="0.8"/>
<polygon points="68.40,165.77 70.55,168.13 68.40,170.48 66.25,168.13" fill="#7fe0ff" stroke="#ff3a96" stroke-width="0.8"/>
<polygon points="76.20,163.47 78.35,165.83 76.20,168.18 74.05,165.83" fill="#7fe0ff" stroke="#ff3a96" stroke-width="0.8"/>
<polygon points="84.00,160.47 86.15,162.83 84.00,165.19 81.85,162.83" fill="#7fe0ff" stroke="#ff3a96" stroke-width="0.8"/>
<polygon points="91.80,157.86 93.95,160.22 91.80,162.58 89.65,160.22" fill="#7fe0ff" stroke="#ff3a96" stroke-width="0.8"/>
<polygon points="99.60,155.55 101.75,157.91 99.60,160.27 97.45,157.91" fill="#7fe0ff" stroke="#ff3a96" stroke-width="0.8"/>
<polygon points="107.40,153.16 109.55,155.52 107.40,157.88 105.25,155.52" fill="#7fe0ff" stroke="#ff3a96" stroke-width="0.8"/>
<polygon points="115.20,150.13 117.35,152.49 115.20,154.84 113.05,152.49" fill="#7fe0ff" stroke="#ff3a96" stroke-width="0.8"/>
<polygon points="123.00,147.07 125.15,149.43 123.00,151.79 120.85,149.43" fill="#7fe0ff" stroke="#ff3a96" stroke-width="0.8"/>
<polygon points="130.80,143.91 132.95,146.27 130.80,148.63 128.65,146.27" fill="#7fe0ff" stroke="#ff3a96" stroke-width="0.8"/>
<polygon points="138.60,140.70 140.75,143.06 138.60,145.42 136.45,143.06" fill="#7fe0ff" stroke="#ff3a96" stroke-width="0.8"/>
<polygon points="146.40,137.40 148.55,139.76 146.40,142.12 144.25,139.76" fill="#7fe0ff" stroke="#ff3a96" stroke-width="0.8"/>
<polygon points="154.20,134.10 156.35,136.46 154.20,138.82 152.05,136.46" fill="#7fe0ff" stroke="#ff3a96" stroke-width="0.8"/>
<polygon points="162.00,130.72 164.15,133.08 162.00,135.44 159.85,133.08" fill="#7fe0ff" stroke="#ff3a96" stroke-width="0.8"/>
<polygon points="169.80,126.83 171.95,129.19 169.80,131.55 167.65,129.19" fill="#7fe0ff" stroke="#ff3a96" stroke-width="0.8"/>
<polygon points="177.60,123.06 179.75,125.42 177.60,127.78 175.45,125.42" fill="#7fe0ff" stroke="#ff3a96" stroke-width="0.8"/>
<polygon points="185.40,119.49 187.55,121.85 185.40,124.21 183.25,121.85" fill="#7fe0ff" stroke="#ff3a96" stroke-width="0.8"/>
<polygon points="193.20,115.77 195.35,118.12 193.20,120.48 191.05,118.12" fill="#7fe0ff" stroke="#ff3a96" stroke-width="0.8"/>
<polygon points="201.00,111.94 203.15,114.30 201.00,116.66 198.85,114.30" fill="#7fe0ff" stroke="#ff3a96" stroke-width="0.8"/>
<polygon points="208.80,108.22 210.95,110.58 208.80,112.94 206.65,110.58" fill="#7fe0ff" stroke="#ff3a96" stroke-width="0.8"/>
<polygon points="216.60,104.42 218.75,106.78 216.60,109.14 214.45,106.78" fill="#7fe0ff" stroke="#ff3a96" stroke-width="0.8"/>
<polygon points="224.40,100.71 226.55,103.06 224.40,105.42 222.25,103.06" fill="#7fe0ff" stroke="#ff3a96" stroke-width="0.8"/>
<polygon points="232.20,96.82 234.35,99.18 232.20,101.54 230.05,99.18" fill="#7fe0ff" stroke="#ff3a96" stroke-width="0.8"/>
<polygon points="240.00,92.90 242.15,95.25 240.00,97.61 237.85,95.25" fill="#7fe0ff" stroke="#ff3a96" stroke-width="0.8"/>
<polygon points="247.80,88.86 249.95,91.21 247.80,93.57 245.65,91.21" fill="#7fe0ff" stroke="#ff3a96" stroke-width="0.8"/>
<polygon points="255.60,84.62 257.75,86.98 255.60,89.34 253.45,86.98" fill="#7fe0ff" stroke="#ff3a96" stroke-width="0.8"/>
<polygon points="263.40,80.36 265.55,82.72 263.40,85.07 261.25,82.72" fill="#7fe0ff" stroke="#ff3a96" stroke-width="0.8"/>
<polygon points="271.20,76.24 273.35,78.60 271.20,80.96 269.05,78.60" fill="#7fe0ff" stroke="#ff3a96" stroke-width="0.8"/>
<polygon points="279.00,72.08 281.15,74.44 279.00,76.79 276.85,74.44" fill="#7fe0ff" stroke="#ff3a96" stroke-width="0.8"/>
<polygon points="286.80,67.57 288.95,69.93 286.80,72.29 284.65,69.93" fill="#7fe0ff" stroke="#ff3a96" stroke-width="0.8"/>
<polygon points="294.60,63.12 296.75,65.48 294.60,67.84 292.45,65.48" fill="#7fe0ff" stroke="#ff3a96" stroke-width="0.8"/>
<polygon points="302.40,58.92 304.55,61.28 302.40,63.63 300.25,61.28" fill="#7fe0ff" stroke="#ff3a96" stroke-width="0.8"/>
<polygon points="310.20,54.48 312.35,56.83 310.20,59.19 308.05,56.83" fill="#7fe0ff" stroke="#ff3a96" stroke-width="0.8"/>
<polygon points="318.00,49.51 320.15,51.87 318.00,54.23 315.85,51.87" fill="#7fe0ff" stroke="#ff3a96" stroke-width="0.8"/>
<polygon points="325.80,44.70 327.95,47.06 325.80,49.42 323.65,47.06" fill="#7fe0ff" stroke="#ff3a96" stroke-width="0.8"/>
<polygon points="333.60,40.35 335.75,42.70 333.60,45.06 331.45,42.70" fill="#7fe0ff" stroke="#ff3a96" stroke-width="0.8"/>
<polygon points="341.40,36.62 343.55,38.98 341.40,41.34 339.25,38.98" fill="#7fe0ff" stroke="#ff3a96" stroke-width="0.8"/>
</g>
<g clip-path="url(#cb)">
<polyline points="52.8,324.4 60.6,316.1 68.4,307.9 76.2,299.1 84.0,289.4 91.8,280.9 99.6,272.3 107.4,264.3 115.2,256.3 123.0,249.8 130.8,244.1 138.6,239.0 146.4,234.5 154.2,231.0 162.0,228.1 169.8,225.9 177.6,223.8 185.4,222.6 193.2,221.4 201.0,220.3 208.8,219.1 216.6,217.8 224.4,217.8 232.2,217.2 240.0,216.2 247.8,215.4 255.6,213.9 263.4,213.2 271.2,212.0 279.0,210.6 286.8,208.7 294.6,207.4 302.4,205.5 310.2,204.2 318.0,202.8 325.8,200.2 333.6,198.2 341.4,195.6" fill="none" stroke="#3a3ab8" stroke-width="1"/>
<polyline points="52.8,329.3 60.6,321.9 68.4,314.2 76.2,305.4 84.0,296.8 91.8,289.4 99.6,280.9 107.4,273.3 115.2,266.5 123.0,259.2 130.8,253.7 138.6,248.4 146.4,244.0 154.2,240.6 162.0,236.6 169.8,234.9 177.6,233.7 185.4,230.8 193.2,229.6 201.0,228.5 208.8,227.3 216.6,227.0 224.4,227.0 232.2,227.0 240.0,226.4 247.8,226.1 255.6,225.2 263.4,224.2 271.2,223.2 279.0,222.7 286.8,221.3 294.6,219.8 302.4,218.5 310.2,217.6 318.0,216.0 325.8,214.2 333.6,212.5 341.4,209.1" fill="none" stroke="#ff3cff" stroke-width="1"/>
<polyline points="52.8,331.8 60.6,324.9 68.4,317.5 76.2,309.0 84.0,301.0 91.8,293.8 99.6,286.0 107.4,278.8 115.2,272.0 123.0,265.1 130.8,259.8 138.6,254.3 146.4,249.8 154.2,245.2 162.0,241.8 169.8,238.8 177.6,236.6 185.4,235.1 193.2,234.9 201.0,233.1 208.8,232.9 216.6,233.4 224.4,233.1 232.2,232.9 240.0,232.0 247.8,232.3 255.6,232.3 263.4,232.0 271.2,230.5 279.0,229.5 286.8,228.6 294.6,227.5 302.4,225.7 310.2,224.4 318.0,223.5 325.8,222.1 333.6,220.6 341.4,218.2" fill="none" stroke="#2f9c9c" stroke-width="1"/>
<polyline points="52.8,336.4 60.6,330.4 68.4,323.7 76.2,316.1 84.0,307.9 91.8,300.7 99.6,293.3 107.4,286.2 115.2,278.8 123.0,272.5 130.8,266.7 138.6,260.8 146.4,255.9 154.2,251.5 162.0,247.4 169.8,245.2 177.6,241.7 185.4,238.4 193.2,237.8 201.0,237.2 208.8,237.0 216.6,237.0 224.4,237.0 232.2,237.0 240.0,235.9 247.8,236.7 255.6,236.7 263.4,236.7 271.2,235.5 279.0,234.9 286.8,234.1 294.6,233.0 302.4,232.7 310.2,231.7 318.0,229.5 325.8,228.3 333.6,227.0 341.4,225.0" fill="none" stroke="#9a3cff" stroke-width="1"/>
<polyline points="52.8,344.3 60.6,338.7 68.4,331.7 76.2,325.1 84.0,318.1 91.8,310.4 99.6,303.2 107.4,295.9 115.2,289.7 123.0,282.8 130.8,276.9 138.6,270.5 146.4,264.3 154.2,262.0 162.0,257.1 169.8,252.9 177.6,250.0 185.4,248.0 193.2,245.6 201.0,243.1 208.8,242.0 216.6,241.7 224.4,242.3 232.2,242.3 240.0,242.8 247.8,243.3 255.6,242.8 263.4,243.7 271.2,244.0 279.0,243.7 286.8,243.7 294.6,243.3 302.4,243.3 310.2,242.2 318.0,241.0 325.8,240.0 333.6,239.2 341.4,236.8" fill="none" stroke="#ff2a2a" stroke-width="1"/>
<polyline points="52.8,338.2 60.6,332.3 68.4,326.3 76.2,319.0 84.0,312.1 91.8,305.3 99.6,298.0 107.4,291.1 115.2,284.3 123.0,277.8 130.8,271.4 138.6,265.1 146.4,259.4 154.2,253.7 162.0,248.6 169.8,244.7 177.6,239.6 185.4,236.0 193.2,233.7 201.0,231.4 208.8,229.8 216.6,230.0 224.4,228.9 232.2,228.2 240.0,228.6 247.8,229.0 255.6,229.3 263.4,229.3 271.2,228.6 279.0,228.6 286.8,228.1 294.6,227.5 302.4,226.8 310.2,225.7 318.0,225.2 325.8,224.5 333.6,223.4 341.4,221.7" fill="none" stroke="#3c963c" stroke-width="1"/>
<polyline points="52.8,345.2 60.6,339.6 68.4,332.6 76.2,326.0 84.0,319.0 91.8,311.3 99.6,304.1 107.4,296.8 115.2,290.6 123.0,283.7 130.8,277.8 138.6,271.4 146.4,265.2 154.2,260.3 162.0,253.6 169.8,248.4 177.6,243.1 185.4,239.0 193.2,236.0 201.0,233.7 208.8,230.9 216.6,231.2 224.4,229.5 232.2,228.9 240.0,228.6 247.8,229.0 255.6,229.5 263.4,230.5 271.2,230.8 279.0,230.8 286.8,231.7 294.6,231.7 302.4,231.7 310.2,230.5 318.0,230.2 325.8,229.8 333.6,229.6 341.4,227.6" fill="none" stroke="#3c3cff" stroke-width="1"/>
<polyline points="52.8,357.4 60.6,352.3 68.4,345.4 76.2,341.9 84.0,334.0 91.8,327.0 99.6,320.2 107.4,314.4 115.2,307.9 123.0,300.4 130.8,294.1 138.6,288.6 146.4,281.8 154.2,275.0 162.0,268.0 169.8,263.3 177.6,258.5 185.4,251.6 193.2,248.7 201.0,245.5 208.8,242.2 216.6,242.3 224.4,243.2 232.2,244.8 240.0,245.2 247.8,245.5 255.6,245.7 263.4,246.6 271.2,248.4 279.0,250.6 286.8,249.7 294.6,251.0 302.4,252.8 310.2,253.7 318.0,254.6 325.8,255.6 333.6,255.6 341.4,255.2" fill="none" stroke="#ff3a96" stroke-width="1"/>
<path d="M50.54,323.05L55.05,325.75M50.54,325.75L55.05,323.05M52.80,322.14L52.80,326.65" stroke="#10108c" stroke-width="1.0" fill="none"/>
<path d="M58.34,314.75L62.85,317.45M58.34,317.45L62.85,314.75M60.60,313.85L60.60,318.36" stroke="#10108c" stroke-width="1.0" fill="none"/>
<path d="M66.14,306.55L70.65,309.25M66.14,309.25L70.65,306.55M68.40,305.64L68.40,310.15" stroke="#10108c" stroke-width="1.0" fill="none"/>
<path d="M73.94,297.75L78.45,300.45M73.94,300.45L78.45,297.75M76.20,296.85L76.20,301.36" stroke="#10108c" stroke-width="1.0" fill="none"/>
<path d="M81.75,288.05L86.25,290.75M81.75,290.75L86.25,288.05M84.00,287.14L84.00,291.65" stroke="#10108c" stroke-width="1.0" fill="none"/>
<path d="M89.55,279.55L94.05,282.25M89.55,282.25L94.05,279.55M91.80,278.64L91.80,283.15" stroke="#10108c" stroke-width="1.0" fill="none"/>
<path d="M97.34,270.95L101.85,273.65M97.34,273.65L101.85,270.95M99.60,270.05L99.60,274.56" stroke="#10108c" stroke-width="1.0" fill="none"/>
<path d="M105.15,262.95L109.66,265.65M105.15,265.65L109.66,262.95M107.40,262.05L107.40,266.56" stroke="#10108c" stroke-width="1.0" fill="none"/>
<path d="M112.94,254.95L117.45,257.65M112.94,257.65L117.45,254.95M115.20,254.05L115.20,258.56" stroke="#10108c" stroke-width="1.0" fill="none"/>
<path d="M120.75,248.45L125.25,251.15M120.75,251.15L125.25,248.45M123.00,247.55L123.00,252.06" stroke="#10108c" stroke-width="1.0" fill="none"/>
<path d="M128.55,242.75L133.06,245.45M128.55,245.45L133.06,242.75M130.80,241.84L130.80,246.35" stroke="#10108c" stroke-width="1.0" fill="none"/>
<path d="M136.34,237.65L140.85,240.35M136.34,240.35L140.85,237.65M138.60,236.75L138.60,241.25" stroke="#10108c" stroke-width="1.0" fill="none"/>
<path d="M144.14,233.15L148.65,235.85M144.14,235.85L148.65,233.15M146.40,232.25L146.40,236.75" stroke="#10108c" stroke-width="1.0" fill="none"/>
<path d="M151.94,229.65L156.45,232.35M151.94,232.35L156.45,229.65M154.20,228.75L154.20,233.25" stroke="#10108c" stroke-width="1.0" fill="none"/>
<path d="M159.75,226.75L164.25,229.45M159.75,229.45L164.25,226.75M162.00,225.84L162.00,230.35" stroke="#10108c" stroke-width="1.0" fill="none"/>
<path d="M167.55,224.55L172.06,227.25M167.55,227.25L172.06,224.55M169.80,223.65L169.80,228.16" stroke="#10108c" stroke-width="1.0" fill="none"/>
<path d="M175.34,222.45L179.85,225.15M175.34,225.15L179.85,222.45M177.60,221.55L177.60,226.06" stroke="#10108c" stroke-width="1.0" fill="none"/>
<path d="M183.14,221.25L187.65,223.95M183.14,223.95L187.65,221.25M185.40,220.34L185.40,224.85" stroke="#10108c" stroke-width="1.0" fill="none"/>
<path d="M190.94,220.05L195.45,222.75M190.94,222.75L195.45,220.05M193.20,219.15L193.20,223.66" stroke="#10108c" stroke-width="1.0" fill="none"/>
<path d="M198.75,218.95L203.25,221.65M198.75,221.65L203.25,218.95M201.00,218.05L201.00,222.56" stroke="#10108c" stroke-width="1.0" fill="none"/>
<path d="M206.55,217.75L211.06,220.45M206.55,220.45L211.06,217.75M208.80,216.84L208.80,221.35" stroke="#10108c" stroke-width="1.0" fill="none"/>
<path d="M214.34,216.45L218.85,219.15M214.34,219.15L218.85,216.45M216.60,215.55L216.60,220.06" stroke="#10108c" stroke-width="1.0" fill="none"/>
<path d="M222.14,216.45L226.65,219.15M222.14,219.15L226.65,216.45M224.40,215.55L224.40,220.06" stroke="#10108c" stroke-width="1.0" fill="none"/>
<path d="M229.94,215.85L234.45,218.55M229.94,218.55L234.45,215.85M232.20,214.94L232.20,219.45" stroke="#10108c" stroke-width="1.0" fill="none"/>
<path d="M237.75,214.85L242.25,217.55M237.75,217.55L242.25,214.85M240.00,213.94L240.00,218.45" stroke="#10108c" stroke-width="1.0" fill="none"/>
<path d="M245.55,214.05L250.06,216.75M245.55,216.75L250.06,214.05M247.80,213.15L247.80,217.66" stroke="#10108c" stroke-width="1.0" fill="none"/>
<path d="M253.34,212.55L257.85,215.25M253.34,215.25L257.85,212.55M255.60,211.65L255.60,216.16" stroke="#10108c" stroke-width="1.0" fill="none"/>
<path d="M261.14,211.85L265.65,214.55M261.14,214.55L265.65,211.85M263.40,210.94L263.40,215.45" stroke="#10108c" stroke-width="1.0" fill="none"/>
<path d="M268.94,210.65L273.45,213.35M268.94,213.35L273.45,210.65M271.20,209.75L271.20,214.25" stroke="#10108c" stroke-width="1.0" fill="none"/>
<path d="M276.75,209.25L281.25,211.95M276.75,211.95L281.25,209.25M279.00,208.34L279.00,212.85" stroke="#10108c" stroke-width="1.0" fill="none"/>
<path d="M284.55,207.35L289.06,210.05M284.55,210.05L289.06,207.35M286.80,206.44L286.80,210.95" stroke="#10108c" stroke-width="1.0" fill="none"/>
<path d="M292.34,206.05L296.85,208.75M292.34,208.75L296.85,206.05M294.60,205.15L294.60,209.66" stroke="#10108c" stroke-width="1.0" fill="none"/>
<path d="M300.14,204.15L304.65,206.85M300.14,206.85L304.65,204.15M302.40,203.25L302.40,207.75" stroke="#10108c" stroke-width="1.0" fill="none"/>
<path d="M307.94,202.85L312.45,205.55M307.94,205.55L312.45,202.85M310.20,201.94L310.20,206.45" stroke="#10108c" stroke-width="1.0" fill="none"/>
<path d="M315.75,201.45L320.25,204.15M315.75,204.15L320.25,201.45M318.00,200.55L318.00,205.06" stroke="#10108c" stroke-width="1.0" fill="none"/>
<path d="M323.55,198.85L328.06,201.55M323.55,201.55L328.06,198.85M325.80,197.94L325.80,202.45" stroke="#10108c" stroke-width="1.0" fill="none"/>
<path d="M331.35,196.85L335.86,199.55M331.35,199.55L335.86,196.85M333.60,195.94L333.60,200.45" stroke="#10108c" stroke-width="1.0" fill="none"/>
<path d="M339.14,194.25L343.65,196.95M339.14,196.95L343.65,194.25M341.40,193.34L341.40,197.85" stroke="#10108c" stroke-width="1.0" fill="none"/>
<polygon points="50.54,327.66 55.05,327.66 52.80,331.56" fill="#ff00ff" stroke="#ff00ff" stroke-width="0.6"/>
<polygon points="58.34,320.26 62.85,320.26 60.60,324.15" fill="#ff00ff" stroke="#ff00ff" stroke-width="0.6"/>
<polygon points="66.14,312.56 70.65,312.56 68.40,316.45" fill="#ff00ff" stroke="#ff00ff" stroke-width="0.6"/>
<polygon points="73.94,303.76 78.45,303.76 76.20,307.65" fill="#ff00ff" stroke="#ff00ff" stroke-width="0.6"/>
<polygon points="81.75,295.16 86.25,295.16 84.00,299.06" fill="#ff00ff" stroke="#ff00ff" stroke-width="0.6"/>
<polygon points="89.55,287.76 94.05,287.76 91.80,291.65" fill="#ff00ff" stroke="#ff00ff" stroke-width="0.6"/>
<polygon points="97.34,279.26 101.85,279.26 99.60,283.15" fill="#ff00ff" stroke="#ff00ff" stroke-width="0.6"/>
<polygon points="105.15,271.66 109.66,271.66 107.40,275.56" fill="#ff00ff" stroke="#ff00ff" stroke-width="0.6"/>
<polygon points="112.94,264.86 117.45,264.86 115.20,268.75" fill="#ff00ff" stroke="#ff00ff" stroke-width="0.6"/>
<polygon points="120.75,257.56 125.25,257.56 123.00,261.45" fill="#ff00ff" stroke="#ff00ff" stroke-width="0.6"/>
<polygon points="128.55,252.06 133.06,252.06 130.80,255.95" fill="#ff00ff" stroke="#ff00ff" stroke-width="0.6"/>
<polygon points="136.34,246.76 140.85,246.76 138.60,250.66" fill="#ff00ff" stroke="#ff00ff" stroke-width="0.6"/>
<polygon points="144.14,242.36 148.65,242.36 146.40,246.25" fill="#ff00ff" stroke="#ff00ff" stroke-width="0.6"/>
<polygon points="151.94,238.96 156.45,238.96 154.20,242.85" fill="#ff00ff" stroke="#ff00ff" stroke-width="0.6"/>
<polygon points="159.75,234.96 164.25,234.96 162.00,238.85" fill="#ff00ff" stroke="#ff00ff" stroke-width="0.6"/>
<polygon points="167.55,233.26 172.06,233.26 169.80,237.16" fill="#ff00ff" stroke="#ff00ff" stroke-width="0.6"/>
<polygon points="175.34,232.06 179.85,232.06 177.60,235.95" fill="#ff00ff" stroke="#ff00ff" stroke-width="0.6"/>
<polygon points="183.14,229.16 187.65,229.16 185.40,233.06" fill="#ff00ff" stroke="#ff00ff" stroke-width="0.6"/>
<polygon points="190.94,227.96 195.45,227.96 193.20,231.85" fill="#ff00ff" stroke="#ff00ff" stroke-width="0.6"/>
<polygon points="198.75,226.86 203.25,226.86 201.00,230.75" fill="#ff00ff" stroke="#ff00ff" stroke-width="0.6"/>
<polygon points="206.55,225.66 211.06,225.66 208.80,229.56" fill="#ff00ff" stroke="#ff00ff" stroke-width="0.6"/>
<polygon points="214.34,225.36 218.85,225.36 216.60,229.25" fill="#ff00ff" stroke="#ff00ff" stroke-width="0.6"/>
<polygon points="222.14,225.36 226.65,225.36 224.40,229.25" fill="#ff00ff" stroke="#ff00ff" stroke-width="0.6"/>
<polygon points="229.94,225.36 234.45,225.36 232.20,229.25" fill="#ff00ff" stroke="#ff00ff" stroke-width="0.6"/>
<polygon points="237.75,224.76 242.25,224.76 240.00,228.66" fill="#ff00ff" stroke="#ff00ff" stroke-width="0.6"/>
<polygon points="245.55,224.46 250.06,224.46 247.80,228.35" fill="#ff00ff" stroke="#ff00ff" stroke-width="0.6"/>
<polygon points="253.34,223.56 257.85,223.56 255.60,227.45" fill="#ff00ff" stroke="#ff00ff" stroke-width="0.6"/>
<polygon points="261.14,222.56 265.65,222.56 263.40,226.45" fill="#ff00ff" stroke="#ff00ff" stroke-width="0.6"/>
<polygon points="268.94,221.56 273.45,221.56 271.20,225.45" fill="#ff00ff" stroke="#ff00ff" stroke-width="0.6"/>
<polygon points="276.75,221.06 281.25,221.06 279.00,224.95" fill="#ff00ff" stroke="#ff00ff" stroke-width="0.6"/>
<polygon points="284.55,219.66 289.06,219.66 286.80,223.56" fill="#ff00ff" stroke="#ff00ff" stroke-width="0.6"/>
<polygon points="292.34,218.16 296.85,218.16 294.60,222.06" fill="#ff00ff" stroke="#ff00ff" stroke-width="0.6"/>
<polygon points="300.14,216.86 304.65,216.86 302.40,220.75" fill="#ff00ff" stroke="#ff00ff" stroke-width="0.6"/>
<polygon points="307.94,215.96 312.45,215.96 310.20,219.85" fill="#ff00ff" stroke="#ff00ff" stroke-width="0.6"/>
<polygon points="315.75,214.36 320.25,214.36 318.00,218.25" fill="#ff00ff" stroke="#ff00ff" stroke-width="0.6"/>
<polygon points="323.55,212.56 328.06,212.56 325.80,216.45" fill="#ff00ff" stroke="#ff00ff" stroke-width="0.6"/>
<polygon points="331.35,210.86 335.86,210.86 333.60,214.75" fill="#ff00ff" stroke="#ff00ff" stroke-width="0.6"/>
<polygon points="339.14,207.46 343.65,207.46 341.40,211.35" fill="#ff00ff" stroke="#ff00ff" stroke-width="0.6"/>
<circle cx="52.8" cy="331.8" r="1.95" fill="#00f0f0" stroke="#1aa6a6" stroke-width="0.8"/>
<circle cx="60.6" cy="324.9" r="1.95" fill="#00f0f0" stroke="#1aa6a6" stroke-width="0.8"/>
<circle cx="68.4" cy="317.5" r="1.95" fill="#00f0f0" stroke="#1aa6a6" stroke-width="0.8"/>
<circle cx="76.2" cy="309.0" r="1.95" fill="#00f0f0" stroke="#1aa6a6" stroke-width="0.8"/>
<circle cx="84.0" cy="301.0" r="1.95" fill="#00f0f0" stroke="#1aa6a6" stroke-width="0.8"/>
<circle cx="91.8" cy="293.8" r="1.95" fill="#00f0f0" stroke="#1aa6a6" stroke-width="0.8"/>
<circle cx="99.6" cy="286.0" r="1.95" fill="#00f0f0" stroke="#1aa6a6" stroke-width="0.8"/>
<circle cx="107.4" cy="278.8" r="1.95" fill="#00f0f0" stroke="#1aa6a6" stroke-width="0.8"/>
<circle cx="115.2" cy="272.0" r="1.95" fill="#00f0f0" stroke="#1aa6a6" stroke-width="0.8"/>
<circle cx="123.0" cy="265.1" r="1.95" fill="#00f0f0" stroke="#1aa6a6" stroke-width="0.8"/>
<circle cx="130.8" cy="259.8" r="1.95" fill="#00f0f0" stroke="#1aa6a6" stroke-width="0.8"/>
<circle cx="138.6" cy="254.3" r="1.95" fill="#00f0f0" stroke="#1aa6a6" stroke-width="0.8"/>
<circle cx="146.4" cy="249.8" r="1.95" fill="#00f0f0" stroke="#1aa6a6" stroke-width="0.8"/>
<circle cx="154.2" cy="245.2" r="1.95" fill="#00f0f0" stroke="#1aa6a6" stroke-width="0.8"/>
<circle cx="162.0" cy="241.8" r="1.95" fill="#00f0f0" stroke="#1aa6a6" stroke-width="0.8"/>
<circle cx="169.8" cy="238.8" r="1.95" fill="#00f0f0" stroke="#1aa6a6" stroke-width="0.8"/>
<circle cx="177.6" cy="236.6" r="1.95" fill="#00f0f0" stroke="#1aa6a6" stroke-width="0.8"/>
<circle cx="185.4" cy="235.1" r="1.95" fill="#00f0f0" stroke="#1aa6a6" stroke-width="0.8"/>
<circle cx="193.2" cy="234.9" r="1.95" fill="#00f0f0" stroke="#1aa6a6" stroke-width="0.8"/>
<circle cx="201.0" cy="233.1" r="1.95" fill="#00f0f0" stroke="#1aa6a6" stroke-width="0.8"/>
<circle cx="208.8" cy="232.9" r="1.95" fill="#00f0f0" stroke="#1aa6a6" stroke-width="0.8"/>
<circle cx="216.6" cy="233.4" r="1.95" fill="#00f0f0" stroke="#1aa6a6" stroke-width="0.8"/>
<circle cx="224.4" cy="233.1" r="1.95" fill="#00f0f0" stroke="#1aa6a6" stroke-width="0.8"/>
<circle cx="232.2" cy="232.9" r="1.95" fill="#00f0f0" stroke="#1aa6a6" stroke-width="0.8"/>
<circle cx="240.0" cy="232.0" r="1.95" fill="#00f0f0" stroke="#1aa6a6" stroke-width="0.8"/>
<circle cx="247.8" cy="232.3" r="1.95" fill="#00f0f0" stroke="#1aa6a6" stroke-width="0.8"/>
<circle cx="255.6" cy="232.3" r="1.95" fill="#00f0f0" stroke="#1aa6a6" stroke-width="0.8"/>
<circle cx="263.4" cy="232.0" r="1.95" fill="#00f0f0" stroke="#1aa6a6" stroke-width="0.8"/>
<circle cx="271.2" cy="230.5" r="1.95" fill="#00f0f0" stroke="#1aa6a6" stroke-width="0.8"/>
<circle cx="279.0" cy="229.5" r="1.95" fill="#00f0f0" stroke="#1aa6a6" stroke-width="0.8"/>
<circle cx="286.8" cy="228.6" r="1.95" fill="#00f0f0" stroke="#1aa6a6" stroke-width="0.8"/>
<circle cx="294.6" cy="227.5" r="1.95" fill="#00f0f0" stroke="#1aa6a6" stroke-width="0.8"/>
<circle cx="302.4" cy="225.7" r="1.95" fill="#00f0f0" stroke="#1aa6a6" stroke-width="0.8"/>
<circle cx="310.2" cy="224.4" r="1.95" fill="#00f0f0" stroke="#1aa6a6" stroke-width="0.8"/>
<circle cx="318.0" cy="223.5" r="1.95" fill="#00f0f0" stroke="#1aa6a6" stroke-width="0.8"/>
<circle cx="325.8" cy="222.1" r="1.95" fill="#00f0f0" stroke="#1aa6a6" stroke-width="0.8"/>
<circle cx="333.6" cy="220.6" r="1.95" fill="#00f0f0" stroke="#1aa6a6" stroke-width="0.8"/>
<circle cx="341.4" cy="218.2" r="1.95" fill="#00f0f0" stroke="#1aa6a6" stroke-width="0.8"/>
<polygon points="54.58,337.42 52.80,338.45 51.02,337.42 51.02,335.38 52.80,334.35 54.58,335.38" fill="#8000ff" stroke="#8000ff" stroke-width="0.6"/>
<polygon points="62.38,331.42 60.60,332.45 58.82,331.42 58.82,329.38 60.60,328.35 62.38,329.38" fill="#8000ff" stroke="#8000ff" stroke-width="0.6"/>
<polygon points="70.18,324.72 68.40,325.75 66.62,324.72 66.62,322.68 68.40,321.65 70.18,322.68" fill="#8000ff" stroke="#8000ff" stroke-width="0.6"/>
<polygon points="77.98,317.12 76.20,318.15 74.42,317.12 74.42,315.08 76.20,314.05 77.98,315.08" fill="#8000ff" stroke="#8000ff" stroke-width="0.6"/>
<polygon points="85.78,308.92 84.00,309.95 82.22,308.92 82.22,306.88 84.00,305.85 85.78,306.88" fill="#8000ff" stroke="#8000ff" stroke-width="0.6"/>
<polygon points="93.58,301.72 91.80,302.75 90.02,301.72 90.02,299.68 91.80,298.65 93.58,299.68" fill="#8000ff" stroke="#8000ff" stroke-width="0.6"/>
<polygon points="101.38,294.32 99.60,295.35 97.82,294.32 97.82,292.28 99.60,291.25 101.38,292.28" fill="#8000ff" stroke="#8000ff" stroke-width="0.6"/>
<polygon points="109.18,287.22 107.40,288.25 105.62,287.22 105.62,285.18 107.40,284.15 109.18,285.18" fill="#8000ff" stroke="#8000ff" stroke-width="0.6"/>
<polygon points="116.98,279.82 115.20,280.85 113.42,279.82 113.42,277.78 115.20,276.75 116.98,277.78" fill="#8000ff" stroke="#8000ff" stroke-width="0.6"/>
<polygon points="124.78,273.52 123.00,274.55 121.22,273.52 121.22,271.48 123.00,270.45 124.78,271.48" fill="#8000ff" stroke="#8000ff" stroke-width="0.6"/>
<polygon points="132.58,267.72 130.80,268.75 129.02,267.72 129.02,265.68 130.80,264.65 132.58,265.68" fill="#8000ff" stroke="#8000ff" stroke-width="0.6"/>
<polygon points="140.38,261.82 138.60,262.85 136.82,261.82 136.82,259.78 138.60,258.75 140.38,259.78" fill="#8000ff" stroke="#8000ff" stroke-width="0.6"/>
<polygon points="148.18,256.93 146.40,257.95 144.62,256.93 144.62,254.88 146.40,253.85 148.18,254.88" fill="#8000ff" stroke="#8000ff" stroke-width="0.6"/>
<polygon points="155.98,252.53 154.20,253.55 152.42,252.53 152.42,250.47 154.20,249.45 155.98,250.47" fill="#8000ff" stroke="#8000ff" stroke-width="0.6"/>
<polygon points="163.78,248.43 162.00,249.45 160.22,248.43 160.22,246.38 162.00,245.35 163.78,246.38" fill="#8000ff" stroke="#8000ff" stroke-width="0.6"/>
<polygon points="171.58,246.22 169.80,247.25 168.02,246.22 168.02,244.17 169.80,243.15 171.58,244.17" fill="#8000ff" stroke="#8000ff" stroke-width="0.6"/>
<polygon points="179.38,242.72 177.60,243.75 175.82,242.72 175.82,240.67 177.60,239.65 179.38,240.67" fill="#8000ff" stroke="#8000ff" stroke-width="0.6"/>
<polygon points="187.18,239.43 185.40,240.45 183.62,239.43 183.62,237.38 185.40,236.35 187.18,237.38" fill="#8000ff" stroke="#8000ff" stroke-width="0.6"/>
<polygon points="194.98,238.83 193.20,239.85 191.42,238.83 191.42,236.78 193.20,235.75 194.98,236.78" fill="#8000ff" stroke="#8000ff" stroke-width="0.6"/>
<polygon points="202.78,238.22 201.00,239.25 199.22,238.22 199.22,236.17 201.00,235.15 202.78,236.17" fill="#8000ff" stroke="#8000ff" stroke-width="0.6"/>
<polygon points="210.58,238.03 208.80,239.05 207.02,238.03 207.02,235.97 208.80,234.95 210.58,235.97" fill="#8000ff" stroke="#8000ff" stroke-width="0.6"/>
<polygon points="218.38,238.03 216.60,239.05 214.82,238.03 214.82,235.97 216.60,234.95 218.38,235.97" fill="#8000ff" stroke="#8000ff" stroke-width="0.6"/>
<polygon points="226.18,238.03 224.40,239.05 222.62,238.03 222.62,235.97 224.40,234.95 226.18,235.97" fill="#8000ff" stroke="#8000ff" stroke-width="0.6"/>
<polygon points="233.98,238.03 232.20,239.05 230.42,238.03 230.42,235.97 232.20,234.95 233.98,235.97" fill="#8000ff" stroke="#8000ff" stroke-width="0.6"/>
<polygon points="241.78,236.93 240.00,237.95 238.22,236.93 238.22,234.88 240.00,233.85 241.78,234.88" fill="#8000ff" stroke="#8000ff" stroke-width="0.6"/>
<polygon points="249.58,237.72 247.80,238.75 246.02,237.72 246.02,235.67 247.80,234.65 249.58,235.67" fill="#8000ff" stroke="#8000ff" stroke-width="0.6"/>
<polygon points="257.38,237.72 255.60,238.75 253.82,237.72 253.82,235.67 255.60,234.65 257.38,235.67" fill="#8000ff" stroke="#8000ff" stroke-width="0.6"/>
<polygon points="265.18,237.72 263.40,238.75 261.62,237.72 261.62,235.67 263.40,234.65 265.18,235.67" fill="#8000ff" stroke="#8000ff" stroke-width="0.6"/>
<polygon points="272.98,236.53 271.20,237.55 269.42,236.53 269.42,234.47 271.20,233.45 272.98,234.47" fill="#8000ff" stroke="#8000ff" stroke-width="0.6"/>
<polygon points="280.78,235.93 279.00,236.95 277.22,235.93 277.22,233.88 279.00,232.85 280.78,233.88" fill="#8000ff" stroke="#8000ff" stroke-width="0.6"/>
<polygon points="288.58,235.12 286.80,236.15 285.02,235.12 285.02,233.07 286.80,232.05 288.58,233.07" fill="#8000ff" stroke="#8000ff" stroke-width="0.6"/>
<polygon points="296.38,234.03 294.60,235.05 292.82,234.03 292.82,231.97 294.60,230.95 296.38,231.97" fill="#8000ff" stroke="#8000ff" stroke-width="0.6"/>
<polygon points="304.18,233.72 302.40,234.75 300.62,233.72 300.62,231.67 302.40,230.65 304.18,231.67" fill="#8000ff" stroke="#8000ff" stroke-width="0.6"/>
<polygon points="311.98,232.72 310.20,233.75 308.42,232.72 308.42,230.67 310.20,229.65 311.98,230.67" fill="#8000ff" stroke="#8000ff" stroke-width="0.6"/>
<polygon points="319.78,230.53 318.00,231.55 316.22,230.53 316.22,228.47 318.00,227.45 319.78,228.47" fill="#8000ff" stroke="#8000ff" stroke-width="0.6"/>
<polygon points="327.58,229.33 325.80,230.35 324.02,229.33 324.02,227.28 325.80,226.25 327.58,227.28" fill="#8000ff" stroke="#8000ff" stroke-width="0.6"/>
<polygon points="335.38,228.03 333.60,229.05 331.82,228.03 331.82,225.97 333.60,224.95 335.38,225.97" fill="#8000ff" stroke="#8000ff" stroke-width="0.6"/>
<polygon points="343.18,226.03 341.40,227.05 339.62,226.03 339.62,223.97 341.40,222.95 343.18,223.97" fill="#8000ff" stroke="#8000ff" stroke-width="0.6"/>
<circle cx="52.8" cy="344.3" r="1.95" fill="#ffe400" stroke="#ff3a00" stroke-width="0.8"/>
<circle cx="60.6" cy="338.7" r="1.95" fill="#ffe400" stroke="#ff3a00" stroke-width="0.8"/>
<circle cx="68.4" cy="331.7" r="1.95" fill="#ffe400" stroke="#ff3a00" stroke-width="0.8"/>
<circle cx="76.2" cy="325.1" r="1.95" fill="#ffe400" stroke="#ff3a00" stroke-width="0.8"/>
<circle cx="84.0" cy="318.1" r="1.95" fill="#ffe400" stroke="#ff3a00" stroke-width="0.8"/>
<circle cx="91.8" cy="310.4" r="1.95" fill="#ffe400" stroke="#ff3a00" stroke-width="0.8"/>
<circle cx="99.6" cy="303.2" r="1.95" fill="#ffe400" stroke="#ff3a00" stroke-width="0.8"/>
<circle cx="107.4" cy="295.9" r="1.95" fill="#ffe400" stroke="#ff3a00" stroke-width="0.8"/>
<circle cx="115.2" cy="289.7" r="1.95" fill="#ffe400" stroke="#ff3a00" stroke-width="0.8"/>
<circle cx="123.0" cy="282.8" r="1.95" fill="#ffe400" stroke="#ff3a00" stroke-width="0.8"/>
<circle cx="130.8" cy="276.9" r="1.95" fill="#ffe400" stroke="#ff3a00" stroke-width="0.8"/>
<circle cx="138.6" cy="270.5" r="1.95" fill="#ffe400" stroke="#ff3a00" stroke-width="0.8"/>
<circle cx="146.4" cy="264.3" r="1.95" fill="#ffe400" stroke="#ff3a00" stroke-width="0.8"/>
<circle cx="154.2" cy="262.0" r="1.95" fill="#ffe400" stroke="#ff3a00" stroke-width="0.8"/>
<circle cx="162.0" cy="257.1" r="1.95" fill="#ffe400" stroke="#ff3a00" stroke-width="0.8"/>
<circle cx="169.8" cy="252.9" r="1.95" fill="#ffe400" stroke="#ff3a00" stroke-width="0.8"/>
<circle cx="177.6" cy="250.0" r="1.95" fill="#ffe400" stroke="#ff3a00" stroke-width="0.8"/>
<circle cx="185.4" cy="248.0" r="1.95" fill="#ffe400" stroke="#ff3a00" stroke-width="0.8"/>
<circle cx="193.2" cy="245.6" r="1.95" fill="#ffe400" stroke="#ff3a00" stroke-width="0.8"/>
<circle cx="201.0" cy="243.1" r="1.95" fill="#ffe400" stroke="#ff3a00" stroke-width="0.8"/>
<circle cx="208.8" cy="242.0" r="1.95" fill="#ffe400" stroke="#ff3a00" stroke-width="0.8"/>
<circle cx="216.6" cy="241.7" r="1.95" fill="#ffe400" stroke="#ff3a00" stroke-width="0.8"/>
<circle cx="224.4" cy="242.3" r="1.95" fill="#ffe400" stroke="#ff3a00" stroke-width="0.8"/>
<circle cx="232.2" cy="242.3" r="1.95" fill="#ffe400" stroke="#ff3a00" stroke-width="0.8"/>
<circle cx="240.0" cy="242.8" r="1.95" fill="#ffe400" stroke="#ff3a00" stroke-width="0.8"/>
<circle cx="247.8" cy="243.3" r="1.95" fill="#ffe400" stroke="#ff3a00" stroke-width="0.8"/>
<circle cx="255.6" cy="242.8" r="1.95" fill="#ffe400" stroke="#ff3a00" stroke-width="0.8"/>
<circle cx="263.4" cy="243.7" r="1.95" fill="#ffe400" stroke="#ff3a00" stroke-width="0.8"/>
<circle cx="271.2" cy="244.0" r="1.95" fill="#ffe400" stroke="#ff3a00" stroke-width="0.8"/>
<circle cx="279.0" cy="243.7" r="1.95" fill="#ffe400" stroke="#ff3a00" stroke-width="0.8"/>
<circle cx="286.8" cy="243.7" r="1.95" fill="#ffe400" stroke="#ff3a00" stroke-width="0.8"/>
<circle cx="294.6" cy="243.3" r="1.95" fill="#ffe400" stroke="#ff3a00" stroke-width="0.8"/>
<circle cx="302.4" cy="243.3" r="1.95" fill="#ffe400" stroke="#ff3a00" stroke-width="0.8"/>
<circle cx="310.2" cy="242.2" r="1.95" fill="#ffe400" stroke="#ff3a00" stroke-width="0.8"/>
<circle cx="318.0" cy="241.0" r="1.95" fill="#ffe400" stroke="#ff3a00" stroke-width="0.8"/>
<circle cx="325.8" cy="240.0" r="1.95" fill="#ffe400" stroke="#ff3a00" stroke-width="0.8"/>
<circle cx="333.6" cy="239.2" r="1.95" fill="#ffe400" stroke="#ff3a00" stroke-width="0.8"/>
<circle cx="341.4" cy="236.8" r="1.95" fill="#ffe400" stroke="#ff3a00" stroke-width="0.8"/>
<polygon points="54.44,336.05 54.44,340.35 50.54,338.20" fill="#6f8f6f" stroke="#2f8a2f" stroke-width="0.8"/>
<polygon points="62.24,330.15 62.24,334.45 58.34,332.30" fill="#6f8f6f" stroke="#2f8a2f" stroke-width="0.8"/>
<polygon points="70.04,324.15 70.04,328.45 66.14,326.30" fill="#6f8f6f" stroke="#2f8a2f" stroke-width="0.8"/>
<polygon points="77.84,316.85 77.84,321.15 73.94,319.00" fill="#6f8f6f" stroke="#2f8a2f" stroke-width="0.8"/>
<polygon points="85.64,309.95 85.64,314.25 81.75,312.10" fill="#6f8f6f" stroke="#2f8a2f" stroke-width="0.8"/>
<polygon points="93.44,303.15 93.44,307.45 89.55,305.30" fill="#6f8f6f" stroke="#2f8a2f" stroke-width="0.8"/>
<polygon points="101.24,295.85 101.24,300.15 97.34,298.00" fill="#6f8f6f" stroke="#2f8a2f" stroke-width="0.8"/>
<polygon points="109.04,288.95 109.04,293.25 105.15,291.10" fill="#6f8f6f" stroke="#2f8a2f" stroke-width="0.8"/>
<polygon points="116.84,282.15 116.84,286.45 112.94,284.30" fill="#6f8f6f" stroke="#2f8a2f" stroke-width="0.8"/>
<polygon points="124.64,275.65 124.64,279.95 120.75,277.80" fill="#6f8f6f" stroke="#2f8a2f" stroke-width="0.8"/>
<polygon points="132.44,269.25 132.44,273.55 128.55,271.40" fill="#6f8f6f" stroke="#2f8a2f" stroke-width="0.8"/>
<polygon points="140.24,262.95 140.24,267.25 136.34,265.10" fill="#6f8f6f" stroke="#2f8a2f" stroke-width="0.8"/>
<polygon points="148.04,257.25 148.04,261.55 144.14,259.40" fill="#6f8f6f" stroke="#2f8a2f" stroke-width="0.8"/>
<polygon points="155.84,251.55 155.84,255.85 151.94,253.70" fill="#6f8f6f" stroke="#2f8a2f" stroke-width="0.8"/>
<polygon points="163.64,246.45 163.64,250.75 159.75,248.60" fill="#6f8f6f" stroke="#2f8a2f" stroke-width="0.8"/>
<polygon points="171.44,242.55 171.44,246.85 167.55,244.70" fill="#6f8f6f" stroke="#2f8a2f" stroke-width="0.8"/>
<polygon points="179.24,237.45 179.24,241.75 175.34,239.60" fill="#6f8f6f" stroke="#2f8a2f" stroke-width="0.8"/>
<polygon points="187.04,233.85 187.04,238.15 183.14,236.00" fill="#6f8f6f" stroke="#2f8a2f" stroke-width="0.8"/>
<polygon points="194.84,231.55 194.84,235.85 190.94,233.70" fill="#6f8f6f" stroke="#2f8a2f" stroke-width="0.8"/>
<polygon points="202.64,229.25 202.64,233.55 198.75,231.40" fill="#6f8f6f" stroke="#2f8a2f" stroke-width="0.8"/>
<polygon points="210.44,227.65 210.44,231.95 206.55,229.80" fill="#6f8f6f" stroke="#2f8a2f" stroke-width="0.8"/>
<polygon points="218.24,227.85 218.24,232.15 214.34,230.00" fill="#6f8f6f" stroke="#2f8a2f" stroke-width="0.8"/>
<polygon points="226.04,226.75 226.04,231.05 222.14,228.90" fill="#6f8f6f" stroke="#2f8a2f" stroke-width="0.8"/>
<polygon points="233.84,226.05 233.84,230.35 229.94,228.20" fill="#6f8f6f" stroke="#2f8a2f" stroke-width="0.8"/>
<polygon points="241.64,226.45 241.64,230.75 237.75,228.60" fill="#6f8f6f" stroke="#2f8a2f" stroke-width="0.8"/>
<polygon points="249.44,226.85 249.44,231.15 245.55,229.00" fill="#6f8f6f" stroke="#2f8a2f" stroke-width="0.8"/>
<polygon points="257.24,227.15 257.24,231.45 253.34,229.30" fill="#6f8f6f" stroke="#2f8a2f" stroke-width="0.8"/>
<polygon points="265.04,227.15 265.04,231.45 261.14,229.30" fill="#6f8f6f" stroke="#2f8a2f" stroke-width="0.8"/>
<polygon points="272.84,226.45 272.84,230.75 268.94,228.60" fill="#6f8f6f" stroke="#2f8a2f" stroke-width="0.8"/>
<polygon points="280.64,226.45 280.64,230.75 276.75,228.60" fill="#6f8f6f" stroke="#2f8a2f" stroke-width="0.8"/>
<polygon points="288.44,225.95 288.44,230.25 284.55,228.10" fill="#6f8f6f" stroke="#2f8a2f" stroke-width="0.8"/>
<polygon points="296.24,225.35 296.24,229.65 292.34,227.50" fill="#6f8f6f" stroke="#2f8a2f" stroke-width="0.8"/>
<polygon points="304.04,224.65 304.04,228.95 300.14,226.80" fill="#6f8f6f" stroke="#2f8a2f" stroke-width="0.8"/>
<polygon points="311.84,223.55 311.84,227.85 307.94,225.70" fill="#6f8f6f" stroke="#2f8a2f" stroke-width="0.8"/>
<polygon points="319.64,223.05 319.64,227.35 315.75,225.20" fill="#6f8f6f" stroke="#2f8a2f" stroke-width="0.8"/>
<polygon points="327.44,222.35 327.44,226.65 323.55,224.50" fill="#6f8f6f" stroke="#2f8a2f" stroke-width="0.8"/>
<polygon points="335.24,221.25 335.24,225.55 331.35,223.40" fill="#6f8f6f" stroke="#2f8a2f" stroke-width="0.8"/>
<polygon points="343.04,219.55 343.04,223.85 339.14,221.70" fill="#6f8f6f" stroke="#2f8a2f" stroke-width="0.8"/>
<polygon points="50.65,346.84 54.95,346.84 52.80,342.94" fill="#ff6a00" stroke="#3030ff" stroke-width="0.8"/>
<polygon points="58.45,341.24 62.75,341.24 60.60,337.35" fill="#ff6a00" stroke="#3030ff" stroke-width="0.8"/>
<polygon points="66.25,334.24 70.55,334.24 68.40,330.35" fill="#ff6a00" stroke="#3030ff" stroke-width="0.8"/>
<polygon points="74.05,327.64 78.35,327.64 76.20,323.75" fill="#ff6a00" stroke="#3030ff" stroke-width="0.8"/>
<polygon points="81.85,320.64 86.15,320.64 84.00,316.75" fill="#ff6a00" stroke="#3030ff" stroke-width="0.8"/>
<polygon points="89.65,312.94 93.95,312.94 91.80,309.05" fill="#ff6a00" stroke="#3030ff" stroke-width="0.8"/>
<polygon points="97.45,305.74 101.75,305.74 99.60,301.85" fill="#ff6a00" stroke="#3030ff" stroke-width="0.8"/>
<polygon points="105.25,298.44 109.55,298.44 107.40,294.55" fill="#ff6a00" stroke="#3030ff" stroke-width="0.8"/>
<polygon points="113.05,292.24 117.35,292.24 115.20,288.35" fill="#ff6a00" stroke="#3030ff" stroke-width="0.8"/>
<polygon points="120.85,285.34 125.15,285.34 123.00,281.44" fill="#ff6a00" stroke="#3030ff" stroke-width="0.8"/>
<polygon points="128.65,279.44 132.95,279.44 130.80,275.55" fill="#ff6a00" stroke="#3030ff" stroke-width="0.8"/>
<polygon points="136.45,273.04 140.75,273.04 138.60,269.14" fill="#ff6a00" stroke="#3030ff" stroke-width="0.8"/>
<polygon points="144.25,266.84 148.55,266.84 146.40,262.94" fill="#ff6a00" stroke="#3030ff" stroke-width="0.8"/>
<polygon points="152.05,261.94 156.35,261.94 154.20,258.05" fill="#ff6a00" stroke="#3030ff" stroke-width="0.8"/>
<polygon points="159.85,255.24 164.15,255.24 162.00,251.34" fill="#ff6a00" stroke="#3030ff" stroke-width="0.8"/>
<polygon points="167.65,250.04 171.95,250.04 169.80,246.15" fill="#ff6a00" stroke="#3030ff" stroke-width="0.8"/>
<polygon points="175.45,244.74 179.75,244.74 177.60,240.84" fill="#ff6a00" stroke="#3030ff" stroke-width="0.8"/>
<polygon points="183.25,240.64 187.55,240.64 185.40,236.75" fill="#ff6a00" stroke="#3030ff" stroke-width="0.8"/>
<polygon points="191.05,237.64 195.35,237.64 193.20,233.75" fill="#ff6a00" stroke="#3030ff" stroke-width="0.8"/>
<polygon points="198.85,235.34 203.15,235.34 201.00,231.44" fill="#ff6a00" stroke="#3030ff" stroke-width="0.8"/>
<polygon points="206.65,232.54 210.95,232.54 208.80,228.65" fill="#ff6a00" stroke="#3030ff" stroke-width="0.8"/>
<polygon points="214.45,232.84 218.75,232.84 216.60,228.94" fill="#ff6a00" stroke="#3030ff" stroke-width="0.8"/>
<polygon points="222.25,231.14 226.55,231.14 224.40,227.25" fill="#ff6a00" stroke="#3030ff" stroke-width="0.8"/>
<polygon points="230.05,230.54 234.35,230.54 232.20,226.65" fill="#ff6a00" stroke="#3030ff" stroke-width="0.8"/>
<polygon points="237.85,230.24 242.15,230.24 240.00,226.34" fill="#ff6a00" stroke="#3030ff" stroke-width="0.8"/>
<polygon points="245.65,230.64 249.95,230.64 247.80,226.75" fill="#ff6a00" stroke="#3030ff" stroke-width="0.8"/>
<polygon points="253.45,231.14 257.75,231.14 255.60,227.25" fill="#ff6a00" stroke="#3030ff" stroke-width="0.8"/>
<polygon points="261.25,232.14 265.55,232.14 263.40,228.25" fill="#ff6a00" stroke="#3030ff" stroke-width="0.8"/>
<polygon points="269.05,232.44 273.35,232.44 271.20,228.55" fill="#ff6a00" stroke="#3030ff" stroke-width="0.8"/>
<polygon points="276.85,232.44 281.15,232.44 279.00,228.55" fill="#ff6a00" stroke="#3030ff" stroke-width="0.8"/>
<polygon points="284.65,233.34 288.95,233.34 286.80,229.44" fill="#ff6a00" stroke="#3030ff" stroke-width="0.8"/>
<polygon points="292.45,233.34 296.75,233.34 294.60,229.44" fill="#ff6a00" stroke="#3030ff" stroke-width="0.8"/>
<polygon points="300.25,233.34 304.55,233.34 302.40,229.44" fill="#ff6a00" stroke="#3030ff" stroke-width="0.8"/>
<polygon points="308.05,232.14 312.35,232.14 310.20,228.25" fill="#ff6a00" stroke="#3030ff" stroke-width="0.8"/>
<polygon points="315.85,231.84 320.15,231.84 318.00,227.94" fill="#ff6a00" stroke="#3030ff" stroke-width="0.8"/>
<polygon points="323.65,231.44 327.95,231.44 325.80,227.55" fill="#ff6a00" stroke="#3030ff" stroke-width="0.8"/>
<polygon points="331.45,231.24 335.75,231.24 333.60,227.34" fill="#ff6a00" stroke="#3030ff" stroke-width="0.8"/>
<polygon points="339.25,229.24 343.55,229.24 341.40,225.34" fill="#ff6a00" stroke="#3030ff" stroke-width="0.8"/>
<polygon points="52.80,355.04 54.95,357.40 52.80,359.76 50.65,357.40" fill="#7fe0ff" stroke="#ff3a96" stroke-width="0.8"/>
<polygon points="60.60,349.94 62.75,352.30 60.60,354.66 58.45,352.30" fill="#7fe0ff" stroke="#ff3a96" stroke-width="0.8"/>
<polygon points="68.40,343.04 70.55,345.40 68.40,347.76 66.25,345.40" fill="#7fe0ff" stroke="#ff3a96" stroke-width="0.8"/>
<polygon points="76.20,339.54 78.35,341.90 76.20,344.26 74.05,341.90" fill="#7fe0ff" stroke="#ff3a96" stroke-width="0.8"/>
<polygon points="84.00,331.64 86.15,334.00 84.00,336.36 81.85,334.00" fill="#7fe0ff" stroke="#ff3a96" stroke-width="0.8"/>
<polygon points="91.80,324.64 93.95,327.00 91.80,329.36 89.65,327.00" fill="#7fe0ff" stroke="#ff3a96" stroke-width="0.8"/>
<polygon points="99.60,317.84 101.75,320.20 99.60,322.56 97.45,320.20" fill="#7fe0ff" stroke="#ff3a96" stroke-width="0.8"/>
<polygon points="107.40,312.04 109.55,314.40 107.40,316.76 105.25,314.40" fill="#7fe0ff" stroke="#ff3a96" stroke-width="0.8"/>
<polygon points="115.20,305.54 117.35,307.90 115.20,310.26 113.05,307.90" fill="#7fe0ff" stroke="#ff3a96" stroke-width="0.8"/>
<polygon points="123.00,298.04 125.15,300.40 123.00,302.76 120.85,300.40" fill="#7fe0ff" stroke="#ff3a96" stroke-width="0.8"/>
<polygon points="130.80,291.74 132.95,294.10 130.80,296.46 128.65,294.10" fill="#7fe0ff" stroke="#ff3a96" stroke-width="0.8"/>
<polygon points="138.60,286.24 140.75,288.60 138.60,290.96 136.45,288.60" fill="#7fe0ff" stroke="#ff3a96" stroke-width="0.8"/>
<polygon points="146.40,279.44 148.55,281.80 146.40,284.16 144.25,281.80" fill="#7fe0ff" stroke="#ff3a96" stroke-width="0.8"/>
<polygon points="154.20,272.64 156.35,275.00 154.20,277.36 152.05,275.00" fill="#7fe0ff" stroke="#ff3a96" stroke-width="0.8"/>
<polygon points="162.00,265.64 164.15,268.00 162.00,270.36 159.85,268.00" fill="#7fe0ff" stroke="#ff3a96" stroke-width="0.8"/>
<polygon points="169.80,260.94 171.95,263.30 169.80,265.66 167.65,263.30" fill="#7fe0ff" stroke="#ff3a96" stroke-width="0.8"/>
<polygon points="177.60,256.14 179.75,258.50 177.60,260.86 175.45,258.50" fill="#7fe0ff" stroke="#ff3a96" stroke-width="0.8"/>
<polygon points="185.40,249.24 187.55,251.60 185.40,253.96 183.25,251.60" fill="#7fe0ff" stroke="#ff3a96" stroke-width="0.8"/>
<polygon points="193.20,246.34 195.35,248.70 193.20,251.06 191.05,248.70" fill="#7fe0ff" stroke="#ff3a96" stroke-width="0.8"/>
<polygon points="201.00,243.14 203.15,245.50 201.00,247.86 198.85,245.50" fill="#7fe0ff" stroke="#ff3a96" stroke-width="0.8"/>
<polygon points="208.80,239.84 210.95,242.20 208.80,244.56 206.65,242.20" fill="#7fe0ff" stroke="#ff3a96" stroke-width="0.8"/>
<polygon points="216.60,239.94 218.75,242.30 216.60,244.66 214.45,242.30" fill="#7fe0ff" stroke="#ff3a96" stroke-width="0.8"/>
<polygon points="224.40,240.84 226.55,243.20 224.40,245.56 222.25,243.20" fill="#7fe0ff" stroke="#ff3a96" stroke-width="0.8"/>
<polygon points="232.20,242.44 234.35,244.80 232.20,247.16 230.05,244.80" fill="#7fe0ff" stroke="#ff3a96" stroke-width="0.8"/>
<polygon points="240.00,242.84 242.15,245.20 240.00,247.56 237.85,245.20" fill="#7fe0ff" stroke="#ff3a96" stroke-width="0.8"/>
<polygon points="247.80,243.14 249.95,245.50 247.80,247.86 245.65,245.50" fill="#7fe0ff" stroke="#ff3a96" stroke-width="0.8"/>
<polygon points="255.60,243.34 257.75,245.70 255.60,248.06 253.45,245.70" fill="#7fe0ff" stroke="#ff3a96" stroke-width="0.8"/>
<polygon points="263.40,244.24 265.55,246.60 263.40,248.96 261.25,246.60" fill="#7fe0ff" stroke="#ff3a96" stroke-width="0.8"/>
<polygon points="271.20,246.04 273.35,248.40 271.20,250.76 269.05,248.40" fill="#7fe0ff" stroke="#ff3a96" stroke-width="0.8"/>
<polygon points="279.00,248.24 281.15,250.60 279.00,252.96 276.85,250.60" fill="#7fe0ff" stroke="#ff3a96" stroke-width="0.8"/>
<polygon points="286.80,247.34 288.95,249.70 286.80,252.06 284.65,249.70" fill="#7fe0ff" stroke="#ff3a96" stroke-width="0.8"/>
<polygon points="294.60,248.64 296.75,251.00 294.60,253.36 292.45,251.00" fill="#7fe0ff" stroke="#ff3a96" stroke-width="0.8"/>
<polygon points="302.40,250.44 304.55,252.80 302.40,255.16 300.25,252.80" fill="#7fe0ff" stroke="#ff3a96" stroke-width="0.8"/>
<polygon points="310.20,251.34 312.35,253.70 310.20,256.06 308.05,253.70" fill="#7fe0ff" stroke="#ff3a96" stroke-width="0.8"/>
<polygon points="318.00,252.24 320.15,254.60 318.00,256.96 315.85,254.60" fill="#7fe0ff" stroke="#ff3a96" stroke-width="0.8"/>
<polygon points="325.80,253.24 327.95,255.60 325.80,257.96 323.65,255.60" fill="#7fe0ff" stroke="#ff3a96" stroke-width="0.8"/>
<polygon points="333.60,253.24 335.75,255.60 333.60,257.96 331.45,255.60" fill="#7fe0ff" stroke="#ff3a96" stroke-width="0.8"/>
<polygon points="341.40,252.84 343.55,255.20 341.40,257.56 339.25,255.20" fill="#7fe0ff" stroke="#ff3a96" stroke-width="0.8"/>
</g>
<line x1="212" y1="135.3" x2="235" y2="135.3" stroke="#3a3ab8" stroke-width="1"/>
<path d="M221.34,133.95L225.85,136.65M221.34,136.65L225.85,133.95M223.60,133.05L223.60,137.56" stroke="#10108c" stroke-width="1.0" fill="none"/>
<text x="237.5" y="139.1" font-family="Liberation Serif, serif" font-size="10.2">0.17 Hz</text>
<line x1="212" y1="148.2" x2="235" y2="148.2" stroke="#ff3cff" stroke-width="1"/>
<polygon points="221.34,146.56 225.85,146.56 223.60,150.45" fill="#ff00ff" stroke="#ff00ff" stroke-width="0.6"/>
<text x="237.5" y="152.0" font-family="Liberation Serif, serif" font-size="10.2">0.51 Hz</text>
<line x1="212" y1="160.9" x2="235" y2="160.9" stroke="#2f9c9c" stroke-width="1"/>
<circle cx="223.6" cy="160.9" r="1.95" fill="#00f0f0" stroke="#1aa6a6" stroke-width="0.8"/>
<text x="237.5" y="164.7" font-family="Liberation Serif, serif" font-size="10.2">1.71 Hz</text>
<line x1="212" y1="173.4" x2="235" y2="173.4" stroke="#9a3cff" stroke-width="1"/>
<polygon points="225.38,174.43 223.60,175.45 221.82,174.43 221.82,172.38 223.60,171.35 225.38,172.38" fill="#8000ff" stroke="#8000ff" stroke-width="0.6"/>
<text x="237.5" y="177.2" font-family="Liberation Serif, serif" font-size="10.2">5.1 Hz</text>
<line x1="277.8" y1="135.3" x2="300.8" y2="135.3" stroke="#ff2a2a" stroke-width="1"/>
<circle cx="289.3" cy="135.3" r="1.95" fill="#ffe400" stroke="#ff3a00" stroke-width="0.8"/>
<text x="303.1" y="139.1" font-family="Liberation Serif, serif" font-size="10.2">17.1 Hz</text>
<line x1="277.8" y1="148.2" x2="300.8" y2="148.2" stroke="#3c963c" stroke-width="1"/>
<polygon points="290.94,146.05 290.94,150.35 287.05,148.20" fill="#6f8f6f" stroke="#2f8a2f" stroke-width="0.8"/>
<text x="303.1" y="152.0" font-family="Liberation Serif, serif" font-size="10.2">51 Hz</text>
<line x1="277.8" y1="160.9" x2="300.8" y2="160.9" stroke="#3c3cff" stroke-width="1"/>
<polygon points="287.15,162.54 291.45,162.54 289.30,158.65" fill="#ff6a00" stroke="#3030ff" stroke-width="0.8"/>
<text x="303.1" y="164.7" font-family="Liberation Serif, serif" font-size="10.2">170.1 Hz</text>
<line x1="277.8" y1="173.4" x2="300.8" y2="173.4" stroke="#ff3a96" stroke-width="1"/>
<polygon points="289.30,171.04 291.45,173.40 289.30,175.76 287.15,173.40" fill="#7fe0ff" stroke="#ff3a96" stroke-width="0.8"/>
<text x="303.1" y="177.2" font-family="Liberation Serif, serif" font-size="10.2">510 Hz</text>
<rect x="52.5" y="0.5" width="289.0" height="184.0" fill="none" stroke="#1a1a1a" stroke-width="1"/>
<rect x="52.5" y="184.5" width="289.0" height="185.0" fill="none" stroke="#1a1a1a" stroke-width="1"/>
<line x1="52.5" y1="180.0" x2="52.5" y2="189.0" stroke="#1a1a1a" stroke-width="1"/>
<line x1="52.5" y1="365.0" x2="52.5" y2="374.0" stroke="#1a1a1a" stroke-width="1"/>
<line x1="78.8" y1="182.0" x2="78.8" y2="187.0" stroke="#1a1a1a" stroke-width="1"/>
<line x1="78.8" y1="367.0" x2="78.8" y2="372.0" stroke="#1a1a1a" stroke-width="1"/>
<line x1="105.1" y1="180.0" x2="105.1" y2="189.0" stroke="#1a1a1a" stroke-width="1"/>
<line x1="105.1" y1="365.0" x2="105.1" y2="374.0" stroke="#1a1a1a" stroke-width="1"/>
<line x1="131.4" y1="182.0" x2="131.4" y2="187.0" stroke="#1a1a1a" stroke-width="1"/>
<line x1="131.4" y1="367.0" x2="131.4" y2="372.0" stroke="#1a1a1a" stroke-width="1"/>
<line x1="157.7" y1="180.0" x2="157.7" y2="189.0" stroke="#1a1a1a" stroke-width="1"/>
<line x1="157.7" y1="365.0" x2="157.7" y2="374.0" stroke="#1a1a1a" stroke-width="1"/>
<line x1="184.0" y1="182.0" x2="184.0" y2="187.0" stroke="#1a1a1a" stroke-width="1"/>
<line x1="184.0" y1="367.0" x2="184.0" y2="372.0" stroke="#1a1a1a" stroke-width="1"/>
<line x1="210.3" y1="180.0" x2="210.3" y2="189.0" stroke="#1a1a1a" stroke-width="1"/>
<line x1="210.3" y1="365.0" x2="210.3" y2="374.0" stroke="#1a1a1a" stroke-width="1"/>
<line x1="236.6" y1="182.0" x2="236.6" y2="187.0" stroke="#1a1a1a" stroke-width="1"/>
<line x1="236.6" y1="367.0" x2="236.6" y2="372.0" stroke="#1a1a1a" stroke-width="1"/>
<line x1="262.9" y1="180.0" x2="262.9" y2="189.0" stroke="#1a1a1a" stroke-width="1"/>
<line x1="262.9" y1="365.0" x2="262.9" y2="374.0" stroke="#1a1a1a" stroke-width="1"/>
<line x1="289.20000000000005" y1="182.0" x2="289.20000000000005" y2="187.0" stroke="#1a1a1a" stroke-width="1"/>
<line x1="289.20000000000005" y1="367.0" x2="289.20000000000005" y2="372.0" stroke="#1a1a1a" stroke-width="1"/>
<line x1="315.5" y1="180.0" x2="315.5" y2="189.0" stroke="#1a1a1a" stroke-width="1"/>
<line x1="315.5" y1="365.0" x2="315.5" y2="374.0" stroke="#1a1a1a" stroke-width="1"/>
<line x1="341.8" y1="182.0" x2="341.8" y2="187.0" stroke="#1a1a1a" stroke-width="1"/>
<line x1="341.8" y1="367.0" x2="341.8" y2="372.0" stroke="#1a1a1a" stroke-width="1"/>
<line x1="52.5" y1="158.5" x2="58.0" y2="158.5" stroke="#1a1a1a" stroke-width="1"/>
<line x1="52.5" y1="176.87499999999997" x2="55.5" y2="176.87499999999997" stroke="#1a1a1a" stroke-width="1"/>
<line x1="52.5" y1="121.74999999999997" x2="58.0" y2="121.74999999999997" stroke="#1a1a1a" stroke-width="1"/>
<line x1="52.5" y1="140.12499999999997" x2="55.5" y2="140.12499999999997" stroke="#1a1a1a" stroke-width="1"/>
<line x1="52.5" y1="84.99999999999999" x2="58.0" y2="84.99999999999999" stroke="#1a1a1a" stroke-width="1"/>
<line x1="52.5" y1="103.37499999999999" x2="55.5" y2="103.37499999999999" stroke="#1a1a1a" stroke-width="1"/>
<line x1="52.5" y1="48.24999999999999" x2="58.0" y2="48.24999999999999" stroke="#1a1a1a" stroke-width="1"/>
<line x1="52.5" y1="66.625" x2="55.5" y2="66.625" stroke="#1a1a1a" stroke-width="1"/>
<line x1="52.5" y1="11.5" x2="58.0" y2="11.5" stroke="#1a1a1a" stroke-width="1"/>
<line x1="52.5" y1="29.875000000000018" x2="55.5" y2="29.875000000000018" stroke="#1a1a1a" stroke-width="1"/>
<line x1="52.5" y1="369.5" x2="58.0" y2="369.5" stroke="#1a1a1a" stroke-width="1"/>
<line x1="52.5" y1="352.70000000000005" x2="55.5" y2="352.70000000000005" stroke="#1a1a1a" stroke-width="1"/>
<line x1="52.5" y1="335.9" x2="58.0" y2="335.9" stroke="#1a1a1a" stroke-width="1"/>
<line x1="52.5" y1="319.1" x2="55.5" y2="319.1" stroke="#1a1a1a" stroke-width="1"/>
<line x1="52.5" y1="302.3" x2="58.0" y2="302.3" stroke="#1a1a1a" stroke-width="1"/>
<line x1="52.5" y1="285.5" x2="55.5" y2="285.5" stroke="#1a1a1a" stroke-width="1"/>
<line x1="52.5" y1="268.7" x2="58.0" y2="268.7" stroke="#1a1a1a" stroke-width="1"/>
<line x1="52.5" y1="251.89999999999998" x2="55.5" y2="251.89999999999998" stroke="#1a1a1a" stroke-width="1"/>
<line x1="52.5" y1="235.1" x2="58.0" y2="235.1" stroke="#1a1a1a" stroke-width="1"/>
<line x1="52.5" y1="218.3" x2="55.5" y2="218.3" stroke="#1a1a1a" stroke-width="1"/>
<line x1="52.5" y1="201.5" x2="58.0" y2="201.5" stroke="#1a1a1a" stroke-width="1"/>
<line x1="52.5" y1="184.7" x2="55.5" y2="184.7" stroke="#1a1a1a" stroke-width="1"/>
<text x="47" y="163.4" font-family="Liberation Serif, serif" font-size="14" text-anchor="end">0.3</text>
<text x="47" y="126.6" font-family="Liberation Serif, serif" font-size="14" text-anchor="end">0.4</text>
<text x="47" y="89.9" font-family="Liberation Serif, serif" font-size="14" text-anchor="end">0.5</text>
<text x="47" y="53.1" font-family="Liberation Serif, serif" font-size="14" text-anchor="end">0.6</text>
<text x="47" y="16.4" font-family="Liberation Serif, serif" font-size="14" text-anchor="end">0.7</text>
<text x="47" y="374.4" font-family="Liberation Serif, serif" font-size="14" text-anchor="end">0.03</text>
<text x="47" y="340.8" font-family="Liberation Serif, serif" font-size="14" text-anchor="end">0.06</text>
<text x="47" y="307.2" font-family="Liberation Serif, serif" font-size="14" text-anchor="end">0.09</text>
<text x="47" y="273.6" font-family="Liberation Serif, serif" font-size="14" text-anchor="end">0.12</text>
<text x="47" y="240.0" font-family="Liberation Serif, serif" font-size="14" text-anchor="end">0.15</text>
<text x="47" y="206.4" font-family="Liberation Serif, serif" font-size="14" text-anchor="end">0.18</text>
<text x="52.5" y="387.5" font-family="Liberation Serif, serif" font-size="14" text-anchor="middle">4</text>
<text x="105.1" y="387.5" font-family="Liberation Serif, serif" font-size="14" text-anchor="middle">6</text>
<text x="157.7" y="387.5" font-family="Liberation Serif, serif" font-size="14" text-anchor="middle">8</text>
<text x="210.3" y="387.5" font-family="Liberation Serif, serif" font-size="14" text-anchor="middle">10</text>
<text x="262.9" y="387.5" font-family="Liberation Serif, serif" font-size="14" text-anchor="middle">12</text>
<text x="315.5" y="387.5" font-family="Liberation Serif, serif" font-size="14" text-anchor="middle">14</text>
<text x="205" y="405.5" font-family="Liberation Serif, serif" font-size="16" text-anchor="middle">T (K)</text>
<text transform="translate(18.2,81.1) rotate(-90)" font-family="Liberation Serif, serif" font-size="16.5" letter-spacing="0.08" text-anchor="middle">&#967;&#8242; (emu mol<tspan font-size="10" dy="-8.3">&#8722;1</tspan><tspan dy="8.3">Oe</tspan><tspan font-size="10" dy="-8.3">&#8722;1</tspan><tspan dy="8.3">)</tspan></text>
<text transform="translate(15.3,272.8) rotate(-90)" font-family="Liberation Serif, serif" font-size="16.3" letter-spacing="0" text-anchor="middle">&#967;&#8243; (10<tspan font-size="10" dy="-8.3">&#8722;1</tspan><tspan dy="8.3"> emu mol</tspan><tspan font-size="10" dy="-8.3">&#8722;1</tspan><tspan dy="8.3">Oe</tspan><tspan font-size="10" dy="-8.3">&#8722;1</tspan><tspan dy="8.3">)</tspan></text>
<text x="62.6" y="15.3" font-family="Liberation Serif, serif" font-size="13.2">(a)</text>
<text x="63.0" y="201.8" font-family="Liberation Serif, serif" font-size="13.2">(b)</text>
<text x="98.0" y="35.0" font-family="Liberation Serif, serif" font-size="12.3" font-style="italic">h</text>
<text x="103.9" y="39.0" font-family="Liberation Serif, serif" font-size="7.6" font-style="italic">ac</text>
<text x="112.0" y="35.0" font-family="Liberation Serif, serif" font-size="14.5">=</text>
<text x="122.4" y="35.0" font-family="Liberation Serif, serif" font-size="13">4</text>
<text x="130.6" y="35.0" font-family="Liberation Serif, serif" font-size="13">Oe</text>
<text x="97.6" y="52.4" font-family="Liberation Serif, serif" font-size="12.3" font-style="italic">H</text>
<text x="108.1" y="52.4" font-family="Liberation Serif, serif" font-size="14.5">=</text>
<text x="118.3" y="52.4" font-family="Liberation Serif, serif" font-size="13">0</text>
<text x="126.8" y="52.4" font-family="Liberation Serif, serif" font-size="13">Oe</text>
<text x="203.5" y="282.8" font-family="Liberation Serif, serif" font-size="14.3">&#937;</text>
<text x="216.0" y="282.8" font-family="Liberation Serif, serif" font-size="15">=</text>
<text x="226.9" y="282.8" font-family="Liberation Serif, serif" font-size="12.6">0.0448</text>
<line x1="147.5" y1="218.3" x2="229.5" y2="257" stroke="#1a1a1a" stroke-width="1"/>
<polygon points="234.5,259.4 227.2,260.2 230.6,253.6" fill="#111"/>
</svg>
</body></html>
